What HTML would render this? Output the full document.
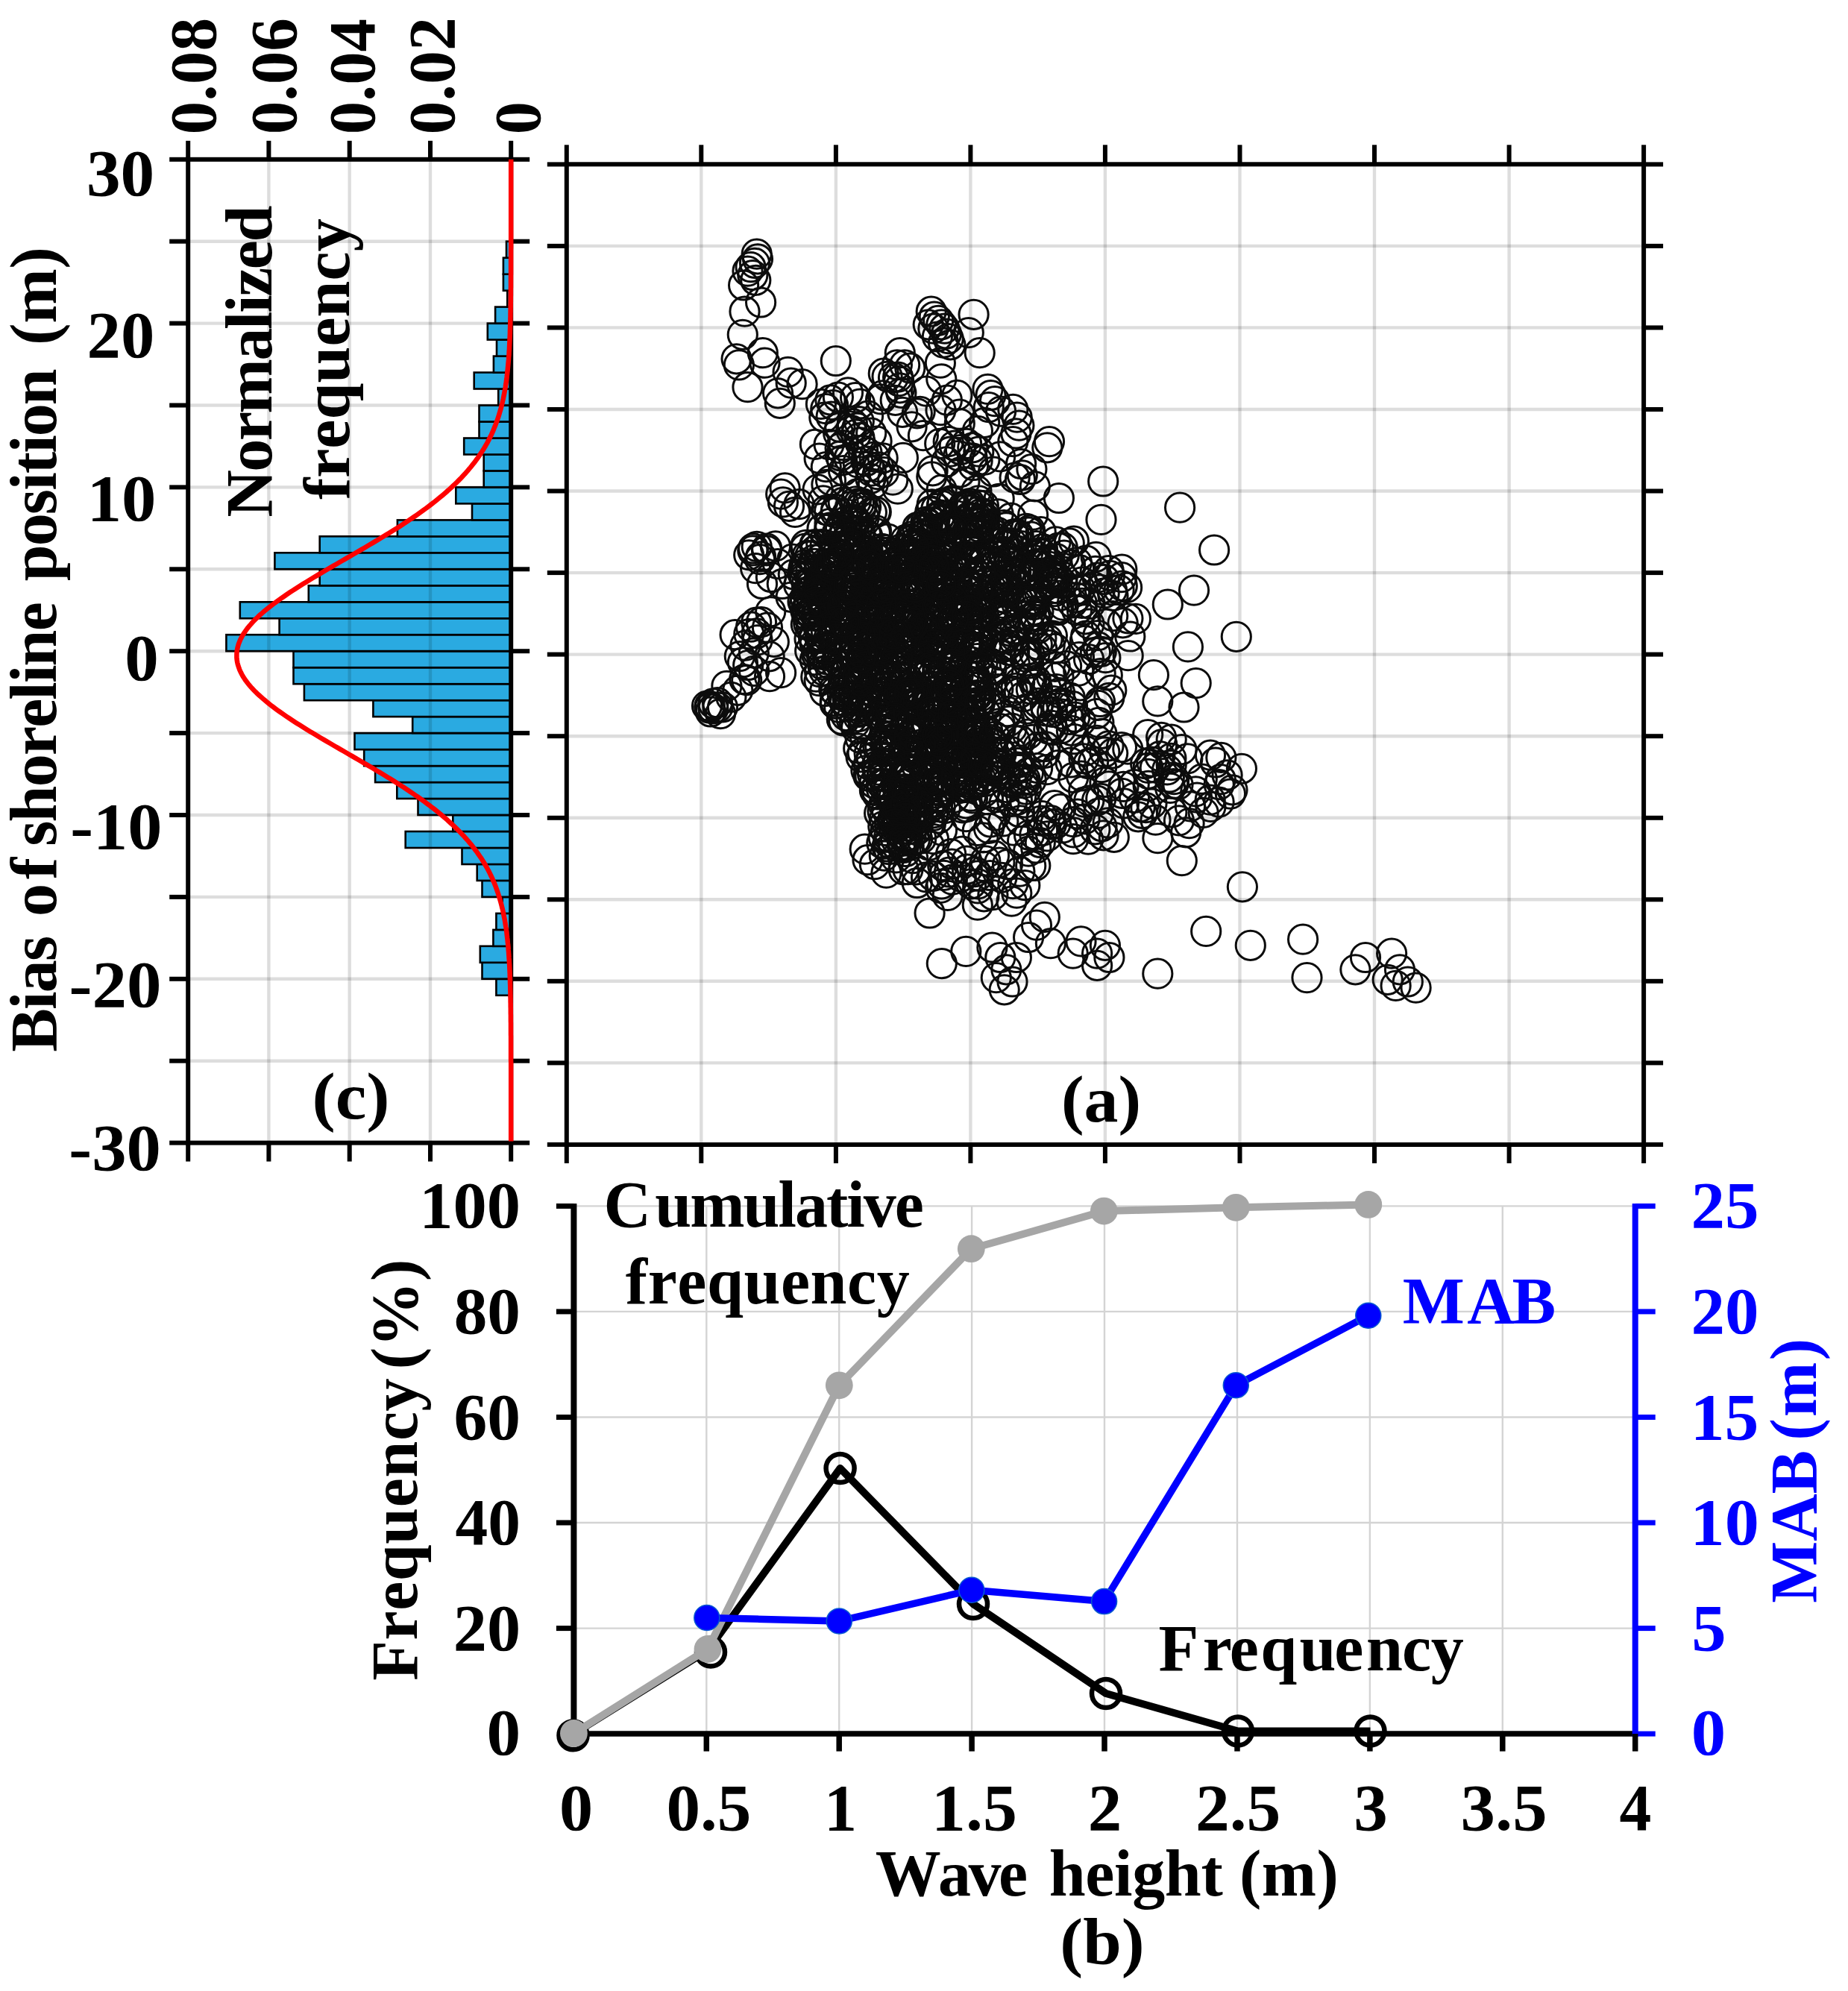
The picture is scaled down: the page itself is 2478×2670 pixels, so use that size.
<!DOCTYPE html>
<html><head><meta charset="utf-8"><title>Figure</title>
<style>html,body{margin:0;padding:0;background:#fff}svg{display:block;filter:blur(0.55px)}</style></head>
<body>
<svg width="2478" height="2670" viewBox="0 0 2478 2670">
<rect width="2478" height="2670" fill="#fff"/>
<g id="panel-c">
<line x1="577.0" y1="213.8" x2="577.0" y2="1532.6" stroke="#000" stroke-width="4.4" stroke-opacity="0.135"/>
<line x1="468.7" y1="213.8" x2="468.7" y2="1532.6" stroke="#000" stroke-width="4.4" stroke-opacity="0.135"/>
<line x1="360.4" y1="213.8" x2="360.4" y2="1532.6" stroke="#000" stroke-width="4.4" stroke-opacity="0.135"/>
<line x1="252.2" y1="1422.7" x2="685.2" y2="1422.7" stroke="#000" stroke-width="4.4" stroke-opacity="0.135"/>
<line x1="252.2" y1="1312.8" x2="685.2" y2="1312.8" stroke="#000" stroke-width="4.4" stroke-opacity="0.135"/>
<line x1="252.2" y1="1202.9" x2="685.2" y2="1202.9" stroke="#000" stroke-width="4.4" stroke-opacity="0.135"/>
<line x1="252.2" y1="1093.0" x2="685.2" y2="1093.0" stroke="#000" stroke-width="4.4" stroke-opacity="0.135"/>
<line x1="252.2" y1="983.1" x2="685.2" y2="983.1" stroke="#000" stroke-width="4.4" stroke-opacity="0.135"/>
<line x1="252.2" y1="873.2" x2="685.2" y2="873.2" stroke="#000" stroke-width="4.4" stroke-opacity="0.135"/>
<line x1="252.2" y1="763.3" x2="685.2" y2="763.3" stroke="#000" stroke-width="4.4" stroke-opacity="0.135"/>
<line x1="252.2" y1="653.4" x2="685.2" y2="653.4" stroke="#000" stroke-width="4.4" stroke-opacity="0.135"/>
<line x1="252.2" y1="543.5" x2="685.2" y2="543.5" stroke="#000" stroke-width="4.4" stroke-opacity="0.135"/>
<line x1="252.2" y1="433.6" x2="685.2" y2="433.6" stroke="#000" stroke-width="4.4" stroke-opacity="0.135"/>
<line x1="252.2" y1="323.7" x2="685.2" y2="323.7" stroke="#000" stroke-width="4.4" stroke-opacity="0.135"/>
<clipPath id="barclip">
<rect x="665.4" y="1312.8" width="19.8" height="22.0"/>
<rect x="646.5" y="1290.8" width="38.7" height="22.0"/>
<rect x="643.8" y="1268.8" width="41.4" height="22.0"/>
<rect x="661.4" y="1246.9" width="23.8" height="22.0"/>
<rect x="665.4" y="1224.9" width="19.8" height="22.0"/>
<rect x="673.6" y="1202.9" width="11.6" height="22.0"/>
<rect x="646.5" y="1180.9" width="38.7" height="22.0"/>
<rect x="639.7" y="1158.9" width="45.5" height="22.0"/>
<rect x="619.5" y="1137.0" width="65.7" height="22.0"/>
<rect x="543.7" y="1115.0" width="141.5" height="22.0"/>
<rect x="607.3" y="1093.0" width="77.9" height="22.0"/>
<rect x="560.5" y="1071.0" width="124.7" height="22.0"/>
<rect x="532.3" y="1049.0" width="152.9" height="22.0"/>
<rect x="503.1" y="1027.1" width="182.1" height="22.0"/>
<rect x="488.2" y="1005.1" width="197.0" height="22.0"/>
<rect x="475.5" y="983.1" width="209.7" height="22.0"/>
<rect x="553.2" y="961.1" width="132.0" height="22.0"/>
<rect x="500.4" y="939.1" width="184.8" height="22.0"/>
<rect x="407.9" y="917.2" width="277.3" height="22.0"/>
<rect x="393.5" y="895.2" width="291.7" height="22.0"/>
<rect x="393.5" y="873.2" width="291.7" height="22.0"/>
<rect x="303.4" y="851.2" width="381.8" height="22.0"/>
<rect x="374.6" y="829.2" width="310.6" height="22.0"/>
<rect x="321.8" y="807.3" width="363.4" height="22.0"/>
<rect x="413.8" y="785.3" width="271.4" height="22.0"/>
<rect x="428.7" y="763.3" width="256.5" height="22.0"/>
<rect x="368.4" y="741.3" width="316.8" height="22.0"/>
<rect x="428.7" y="719.3" width="256.5" height="22.0"/>
<rect x="532.9" y="697.4" width="152.3" height="22.0"/>
<rect x="633.0" y="675.4" width="52.2" height="22.0"/>
<rect x="611.3" y="653.4" width="73.9" height="22.0"/>
<rect x="648.7" y="631.4" width="36.5" height="22.0"/>
<rect x="648.7" y="609.4" width="36.5" height="22.0"/>
<rect x="622.2" y="587.5" width="63.0" height="22.0"/>
<rect x="642.5" y="565.5" width="42.7" height="22.0"/>
<rect x="642.5" y="543.5" width="42.7" height="22.0"/>
<rect x="668.2" y="521.5" width="17.0" height="22.0"/>
<rect x="635.7" y="499.5" width="49.5" height="22.0"/>
<rect x="661.9" y="477.6" width="23.3" height="22.0"/>
<rect x="666.0" y="455.6" width="19.2" height="22.0"/>
<rect x="653.8" y="433.6" width="31.4" height="22.0"/>
<rect x="664.1" y="411.6" width="21.1" height="22.0"/>
<rect x="680.3" y="389.6" width="4.9" height="22.0"/>
<rect x="674.9" y="367.7" width="10.3" height="22.0"/>
<rect x="674.9" y="345.7" width="10.3" height="22.0"/>
<rect x="679.0" y="323.7" width="6.2" height="22.0"/>
</clipPath>
<rect x="665.4" y="1312.8" width="19.8" height="22.0" fill="#2aaae1" stroke="#000" stroke-width="2.6"/>
<rect x="646.5" y="1290.8" width="38.7" height="22.0" fill="#2aaae1" stroke="#000" stroke-width="2.6"/>
<rect x="643.8" y="1268.8" width="41.4" height="22.0" fill="#2aaae1" stroke="#000" stroke-width="2.6"/>
<rect x="661.4" y="1246.9" width="23.8" height="22.0" fill="#2aaae1" stroke="#000" stroke-width="2.6"/>
<rect x="665.4" y="1224.9" width="19.8" height="22.0" fill="#2aaae1" stroke="#000" stroke-width="2.6"/>
<rect x="673.6" y="1202.9" width="11.6" height="22.0" fill="#2aaae1" stroke="#000" stroke-width="2.6"/>
<rect x="646.5" y="1180.9" width="38.7" height="22.0" fill="#2aaae1" stroke="#000" stroke-width="2.6"/>
<rect x="639.7" y="1158.9" width="45.5" height="22.0" fill="#2aaae1" stroke="#000" stroke-width="2.6"/>
<rect x="619.5" y="1137.0" width="65.7" height="22.0" fill="#2aaae1" stroke="#000" stroke-width="2.6"/>
<rect x="543.7" y="1115.0" width="141.5" height="22.0" fill="#2aaae1" stroke="#000" stroke-width="2.6"/>
<rect x="607.3" y="1093.0" width="77.9" height="22.0" fill="#2aaae1" stroke="#000" stroke-width="2.6"/>
<rect x="560.5" y="1071.0" width="124.7" height="22.0" fill="#2aaae1" stroke="#000" stroke-width="2.6"/>
<rect x="532.3" y="1049.0" width="152.9" height="22.0" fill="#2aaae1" stroke="#000" stroke-width="2.6"/>
<rect x="503.1" y="1027.1" width="182.1" height="22.0" fill="#2aaae1" stroke="#000" stroke-width="2.6"/>
<rect x="488.2" y="1005.1" width="197.0" height="22.0" fill="#2aaae1" stroke="#000" stroke-width="2.6"/>
<rect x="475.5" y="983.1" width="209.7" height="22.0" fill="#2aaae1" stroke="#000" stroke-width="2.6"/>
<rect x="553.2" y="961.1" width="132.0" height="22.0" fill="#2aaae1" stroke="#000" stroke-width="2.6"/>
<rect x="500.4" y="939.1" width="184.8" height="22.0" fill="#2aaae1" stroke="#000" stroke-width="2.6"/>
<rect x="407.9" y="917.2" width="277.3" height="22.0" fill="#2aaae1" stroke="#000" stroke-width="2.6"/>
<rect x="393.5" y="895.2" width="291.7" height="22.0" fill="#2aaae1" stroke="#000" stroke-width="2.6"/>
<rect x="393.5" y="873.2" width="291.7" height="22.0" fill="#2aaae1" stroke="#000" stroke-width="2.6"/>
<rect x="303.4" y="851.2" width="381.8" height="22.0" fill="#2aaae1" stroke="#000" stroke-width="2.6"/>
<rect x="374.6" y="829.2" width="310.6" height="22.0" fill="#2aaae1" stroke="#000" stroke-width="2.6"/>
<rect x="321.8" y="807.3" width="363.4" height="22.0" fill="#2aaae1" stroke="#000" stroke-width="2.6"/>
<rect x="413.8" y="785.3" width="271.4" height="22.0" fill="#2aaae1" stroke="#000" stroke-width="2.6"/>
<rect x="428.7" y="763.3" width="256.5" height="22.0" fill="#2aaae1" stroke="#000" stroke-width="2.6"/>
<rect x="368.4" y="741.3" width="316.8" height="22.0" fill="#2aaae1" stroke="#000" stroke-width="2.6"/>
<rect x="428.7" y="719.3" width="256.5" height="22.0" fill="#2aaae1" stroke="#000" stroke-width="2.6"/>
<rect x="532.9" y="697.4" width="152.3" height="22.0" fill="#2aaae1" stroke="#000" stroke-width="2.6"/>
<rect x="633.0" y="675.4" width="52.2" height="22.0" fill="#2aaae1" stroke="#000" stroke-width="2.6"/>
<rect x="611.3" y="653.4" width="73.9" height="22.0" fill="#2aaae1" stroke="#000" stroke-width="2.6"/>
<rect x="648.7" y="631.4" width="36.5" height="22.0" fill="#2aaae1" stroke="#000" stroke-width="2.6"/>
<rect x="648.7" y="609.4" width="36.5" height="22.0" fill="#2aaae1" stroke="#000" stroke-width="2.6"/>
<rect x="622.2" y="587.5" width="63.0" height="22.0" fill="#2aaae1" stroke="#000" stroke-width="2.6"/>
<rect x="642.5" y="565.5" width="42.7" height="22.0" fill="#2aaae1" stroke="#000" stroke-width="2.6"/>
<rect x="642.5" y="543.5" width="42.7" height="22.0" fill="#2aaae1" stroke="#000" stroke-width="2.6"/>
<rect x="668.2" y="521.5" width="17.0" height="22.0" fill="#2aaae1" stroke="#000" stroke-width="2.6"/>
<rect x="635.7" y="499.5" width="49.5" height="22.0" fill="#2aaae1" stroke="#000" stroke-width="2.6"/>
<rect x="661.9" y="477.6" width="23.3" height="22.0" fill="#2aaae1" stroke="#000" stroke-width="2.6"/>
<rect x="666.0" y="455.6" width="19.2" height="22.0" fill="#2aaae1" stroke="#000" stroke-width="2.6"/>
<rect x="653.8" y="433.6" width="31.4" height="22.0" fill="#2aaae1" stroke="#000" stroke-width="2.6"/>
<rect x="664.1" y="411.6" width="21.1" height="22.0" fill="#2aaae1" stroke="#000" stroke-width="2.6"/>
<rect x="680.3" y="389.6" width="4.9" height="22.0" fill="#2aaae1" stroke="#000" stroke-width="2.6"/>
<rect x="674.9" y="367.7" width="10.3" height="22.0" fill="#2aaae1" stroke="#000" stroke-width="2.6"/>
<rect x="674.9" y="345.7" width="10.3" height="22.0" fill="#2aaae1" stroke="#000" stroke-width="2.6"/>
<rect x="679.0" y="323.7" width="6.2" height="22.0" fill="#2aaae1" stroke="#000" stroke-width="2.6"/>
<g clip-path="url(#barclip)">
<line x1="577.0" y1="213.8" x2="577.0" y2="1532.6" stroke="#000" stroke-width="4.4" stroke-opacity="0.13"/>
<line x1="468.7" y1="213.8" x2="468.7" y2="1532.6" stroke="#000" stroke-width="4.4" stroke-opacity="0.13"/>
<line x1="360.4" y1="213.8" x2="360.4" y2="1532.6" stroke="#000" stroke-width="4.4" stroke-opacity="0.13"/>
<line x1="252.2" y1="1422.7" x2="685.2" y2="1422.7" stroke="#000" stroke-width="4.4" stroke-opacity="0.13"/>
<line x1="252.2" y1="1312.8" x2="685.2" y2="1312.8" stroke="#000" stroke-width="4.4" stroke-opacity="0.13"/>
<line x1="252.2" y1="1202.9" x2="685.2" y2="1202.9" stroke="#000" stroke-width="4.4" stroke-opacity="0.13"/>
<line x1="252.2" y1="1093.0" x2="685.2" y2="1093.0" stroke="#000" stroke-width="4.4" stroke-opacity="0.13"/>
<line x1="252.2" y1="983.1" x2="685.2" y2="983.1" stroke="#000" stroke-width="4.4" stroke-opacity="0.13"/>
<line x1="252.2" y1="873.2" x2="685.2" y2="873.2" stroke="#000" stroke-width="4.4" stroke-opacity="0.13"/>
<line x1="252.2" y1="763.3" x2="685.2" y2="763.3" stroke="#000" stroke-width="4.4" stroke-opacity="0.13"/>
<line x1="252.2" y1="653.4" x2="685.2" y2="653.4" stroke="#000" stroke-width="4.4" stroke-opacity="0.13"/>
<line x1="252.2" y1="543.5" x2="685.2" y2="543.5" stroke="#000" stroke-width="4.4" stroke-opacity="0.13"/>
<line x1="252.2" y1="433.6" x2="685.2" y2="433.6" stroke="#000" stroke-width="4.4" stroke-opacity="0.13"/>
<line x1="252.2" y1="323.7" x2="685.2" y2="323.7" stroke="#000" stroke-width="4.4" stroke-opacity="0.13"/>
</g>
<rect x="252.2" y="213.8" width="433.00000000000006" height="1318.8" fill="none" stroke="#000" stroke-width="6"/>
<line x1="227.2" y1="1532.6" x2="252.2" y2="1532.6" stroke="#000" stroke-width="6" />
<line x1="685.2" y1="1532.6" x2="710.2" y2="1532.6" stroke="#000" stroke-width="6" />
<line x1="227.2" y1="1422.7" x2="252.2" y2="1422.7" stroke="#000" stroke-width="6" />
<line x1="685.2" y1="1422.7" x2="710.2" y2="1422.7" stroke="#000" stroke-width="6" />
<line x1="227.2" y1="1312.8" x2="252.2" y2="1312.8" stroke="#000" stroke-width="6" />
<line x1="685.2" y1="1312.8" x2="710.2" y2="1312.8" stroke="#000" stroke-width="6" />
<line x1="227.2" y1="1202.9" x2="252.2" y2="1202.9" stroke="#000" stroke-width="6" />
<line x1="685.2" y1="1202.9" x2="710.2" y2="1202.9" stroke="#000" stroke-width="6" />
<line x1="227.2" y1="1093.0" x2="252.2" y2="1093.0" stroke="#000" stroke-width="6" />
<line x1="685.2" y1="1093.0" x2="710.2" y2="1093.0" stroke="#000" stroke-width="6" />
<line x1="227.2" y1="983.1" x2="252.2" y2="983.1" stroke="#000" stroke-width="6" />
<line x1="685.2" y1="983.1" x2="710.2" y2="983.1" stroke="#000" stroke-width="6" />
<line x1="227.2" y1="873.2" x2="252.2" y2="873.2" stroke="#000" stroke-width="6" />
<line x1="685.2" y1="873.2" x2="710.2" y2="873.2" stroke="#000" stroke-width="6" />
<line x1="227.2" y1="763.3" x2="252.2" y2="763.3" stroke="#000" stroke-width="6" />
<line x1="685.2" y1="763.3" x2="710.2" y2="763.3" stroke="#000" stroke-width="6" />
<line x1="227.2" y1="653.4" x2="252.2" y2="653.4" stroke="#000" stroke-width="6" />
<line x1="685.2" y1="653.4" x2="710.2" y2="653.4" stroke="#000" stroke-width="6" />
<line x1="227.2" y1="543.5" x2="252.2" y2="543.5" stroke="#000" stroke-width="6" />
<line x1="685.2" y1="543.5" x2="710.2" y2="543.5" stroke="#000" stroke-width="6" />
<line x1="227.2" y1="433.6" x2="252.2" y2="433.6" stroke="#000" stroke-width="6" />
<line x1="685.2" y1="433.6" x2="710.2" y2="433.6" stroke="#000" stroke-width="6" />
<line x1="227.2" y1="323.7" x2="252.2" y2="323.7" stroke="#000" stroke-width="6" />
<line x1="685.2" y1="323.7" x2="710.2" y2="323.7" stroke="#000" stroke-width="6" />
<line x1="227.2" y1="213.8" x2="252.2" y2="213.8" stroke="#000" stroke-width="6" />
<line x1="685.2" y1="213.8" x2="710.2" y2="213.8" stroke="#000" stroke-width="6" />
<line x1="685.2" y1="188.8" x2="685.2" y2="213.8" stroke="#000" stroke-width="6" />
<line x1="685.2" y1="1532.6" x2="685.2" y2="1557.6" stroke="#000" stroke-width="6" />
<line x1="577.0" y1="188.8" x2="577.0" y2="213.8" stroke="#000" stroke-width="6" />
<line x1="577.0" y1="1532.6" x2="577.0" y2="1557.6" stroke="#000" stroke-width="6" />
<line x1="468.7" y1="188.8" x2="468.7" y2="213.8" stroke="#000" stroke-width="6" />
<line x1="468.7" y1="1532.6" x2="468.7" y2="1557.6" stroke="#000" stroke-width="6" />
<line x1="360.4" y1="188.8" x2="360.4" y2="213.8" stroke="#000" stroke-width="6" />
<line x1="360.4" y1="1532.6" x2="360.4" y2="1557.6" stroke="#000" stroke-width="6" />
<line x1="252.2" y1="188.8" x2="252.2" y2="213.8" stroke="#000" stroke-width="6" />
<line x1="252.2" y1="1532.6" x2="252.2" y2="1557.6" stroke="#000" stroke-width="6" />
<polyline fill="none" stroke="#ff0000" stroke-width="6.5" stroke-linejoin="round" points="685.2,213.8 685.2,216.0 685.2,218.2 685.2,220.4 685.2,222.6 685.2,224.8 685.2,227.0 685.2,229.2 685.2,231.4 685.2,233.6 685.2,235.8 685.2,238.0 685.2,240.2 685.2,242.4 685.2,244.6 685.2,246.8 685.2,249.0 685.2,251.2 685.2,253.4 685.2,255.6 685.2,257.8 685.2,260.0 685.2,262.2 685.2,264.4 685.2,266.6 685.2,268.8 685.2,270.9 685.2,273.1 685.2,275.3 685.2,277.5 685.2,279.7 685.2,281.9 685.2,284.1 685.2,286.3 685.2,288.5 685.2,290.7 685.2,292.9 685.2,295.1 685.2,297.3 685.2,299.5 685.2,301.7 685.2,303.9 685.2,306.1 685.2,308.3 685.2,310.5 685.2,312.7 685.2,314.9 685.2,317.1 685.2,319.3 685.2,321.5 685.2,323.7 685.2,325.9 685.2,328.1 685.2,330.3 685.2,332.5 685.1,334.7 685.1,336.9 685.1,339.1 685.1,341.3 685.1,343.5 685.1,345.7 685.1,347.9 685.1,350.1 685.1,352.3 685.1,354.5 685.1,356.7 685.1,358.9 685.1,361.1 685.1,363.3 685.1,365.5 685.1,367.7 685.0,369.9 685.0,372.1 685.0,374.3 685.0,376.5 685.0,378.7 685.0,380.8 685.0,383.0 685.0,385.2 684.9,387.4 684.9,389.6 684.9,391.8 684.9,394.0 684.9,396.2 684.8,398.4 684.8,400.6 684.8,402.8 684.8,405.0 684.7,407.2 684.7,409.4 684.7,411.6 684.6,413.8 684.6,416.0 684.6,418.2 684.5,420.4 684.5,422.6 684.5,424.8 684.4,427.0 684.4,429.2 684.3,431.4 684.3,433.6 684.2,435.8 684.1,438.0 684.1,440.2 684.0,442.4 683.9,444.6 683.9,446.8 683.8,449.0 683.7,451.2 683.6,453.4 683.5,455.6 683.4,457.8 683.3,460.0 683.2,462.2 683.1,464.4 683.0,466.6 682.9,468.8 682.7,471.0 682.6,473.2 682.5,475.4 682.3,477.6 682.1,479.8 682.0,482.0 681.8,484.2 681.6,486.4 681.4,488.6 681.2,490.7 681.0,492.9 680.8,495.1 680.6,497.3 680.3,499.5 680.1,501.7 679.8,503.9 679.6,506.1 679.3,508.3 679.0,510.5 678.7,512.7 678.4,514.9 678.0,517.1 677.7,519.3 677.3,521.5 676.9,523.7 676.5,525.9 676.1,528.1 675.7,530.3 675.2,532.5 674.8,534.7 674.3,536.9 673.8,539.1 673.3,541.3 672.7,543.5 672.2,545.7 671.6,547.9 671.0,550.1 670.3,552.3 669.7,554.5 669.0,556.7 668.3,558.9 667.6,561.1 666.8,563.3 666.0,565.5 665.2,567.7 664.4,569.9 663.5,572.1 662.6,574.3 661.7,576.5 660.8,578.7 659.8,580.9 658.8,583.1 657.7,585.3 656.6,587.5 655.5,589.7 654.4,591.9 653.2,594.1 651.9,596.3 650.7,598.5 649.4,600.6 648.1,602.8 646.7,605.0 645.3,607.2 643.8,609.4 642.3,611.6 640.8,613.8 639.2,616.0 637.6,618.2 635.9,620.4 634.2,622.6 632.5,624.8 630.7,627.0 628.8,629.2 627.0,631.4 625.0,633.6 623.1,635.8 621.0,638.0 619.0,640.2 616.9,642.4 614.7,644.6 612.5,646.8 610.2,649.0 607.9,651.2 605.6,653.4 603.2,655.6 600.7,657.8 598.3,660.0 595.7,662.2 593.1,664.4 590.5,666.6 587.8,668.8 585.1,671.0 582.3,673.2 579.5,675.4 576.6,677.6 573.7,679.8 570.8,682.0 567.8,684.2 564.7,686.4 561.6,688.6 558.5,690.8 555.3,693.0 552.1,695.2 548.8,697.4 545.6,699.6 542.2,701.8 538.9,704.0 535.5,706.2 532.0,708.4 528.6,710.5 525.0,712.7 521.5,714.9 518.0,717.1 514.4,719.3 510.7,721.5 507.1,723.7 503.4,725.9 499.7,728.1 496.0,730.3 492.3,732.5 488.6,734.7 484.8,736.9 481.0,739.1 477.3,741.3 473.5,743.5 469.7,745.7 465.9,747.9 462.1,750.1 458.3,752.3 454.5,754.5 450.7,756.7 446.9,758.9 443.1,761.1 439.4,763.3 435.6,765.5 431.9,767.7 428.2,769.9 424.5,772.1 420.8,774.3 417.1,776.5 413.5,778.7 409.9,780.9 406.4,783.1 402.9,785.3 399.4,787.5 395.9,789.7 392.6,791.9 389.2,794.1 385.9,796.3 382.7,798.5 379.5,800.7 376.3,802.9 373.2,805.1 370.2,807.3 367.3,809.5 364.4,811.7 361.5,813.9 358.8,816.1 356.1,818.3 353.5,820.4 351.0,822.6 348.5,824.8 346.1,827.0 343.9,829.2 341.6,831.4 339.5,833.6 337.5,835.8 335.6,838.0 333.7,840.2 331.9,842.4 330.3,844.6 328.7,846.8 327.2,849.0 325.9,851.2 324.6,853.4 323.4,855.6 322.3,857.8 321.4,860.0 320.5,862.2 319.7,864.4 319.1,866.6 318.5,868.8 318.1,871.0 317.7,873.2 317.5,875.4 317.4,877.6 317.4,879.8 317.4,882.0 317.6,884.2 317.9,886.4 318.3,888.6 318.8,890.8 319.5,893.0 320.2,895.2 321.0,897.4 321.9,899.6 323.0,901.8 324.1,904.0 325.3,906.2 326.7,908.4 328.1,910.6 329.6,912.8 331.3,915.0 333.0,917.2 334.8,919.4 336.7,921.6 338.7,923.8 340.8,926.0 343.0,928.2 345.2,930.3 347.6,932.5 350.0,934.7 352.5,936.9 355.1,939.1 357.7,941.3 360.4,943.5 363.2,945.7 366.1,947.9 369.0,950.1 372.0,952.3 375.1,954.5 378.2,956.7 381.4,958.9 384.6,961.1 387.9,963.3 391.2,965.5 394.6,967.7 398.0,969.9 401.5,972.1 405.0,974.3 408.5,976.5 412.1,978.7 415.7,980.9 419.3,983.1 423.0,985.3 426.7,987.5 430.4,989.7 434.1,991.9 437.9,994.1 441.6,996.3 445.4,998.5 449.2,1000.7 453.0,1002.9 456.8,1005.1 460.6,1007.3 464.4,1009.5 468.2,1011.7 472.0,1013.9 475.8,1016.1 479.5,1018.3 483.3,1020.5 487.1,1022.7 490.8,1024.9 494.6,1027.1 498.3,1029.3 502.0,1031.5 505.6,1033.7 509.3,1035.9 512.9,1038.1 516.5,1040.2 520.1,1042.4 523.6,1044.6 527.2,1046.8 530.6,1049.0 534.1,1051.2 537.5,1053.4 540.9,1055.6 544.2,1057.8 547.5,1060.0 550.8,1062.2 554.0,1064.4 557.2,1066.6 560.4,1068.8 563.5,1071.0 566.5,1073.2 569.6,1075.4 572.5,1077.6 575.5,1079.8 578.3,1082.0 581.2,1084.2 584.0,1086.4 586.7,1088.6 589.4,1090.8 592.1,1093.0 594.7,1095.2 597.2,1097.4 599.8,1099.6 602.2,1101.8 604.6,1104.0 607.0,1106.2 609.3,1108.4 611.6,1110.6 613.8,1112.8 616.0,1115.0 618.1,1117.2 620.2,1119.4 622.3,1121.6 624.2,1123.8 626.2,1126.0 628.1,1128.2 629.9,1130.4 631.8,1132.6 633.5,1134.8 635.2,1137.0 636.9,1139.2 638.6,1141.4 640.2,1143.6 641.7,1145.8 643.2,1148.0 644.7,1150.1 646.1,1152.3 647.5,1154.5 648.9,1156.7 650.2,1158.9 651.4,1161.1 652.7,1163.3 653.9,1165.5 655.1,1167.7 656.2,1169.9 657.3,1172.1 658.3,1174.3 659.4,1176.5 660.4,1178.7 661.3,1180.9 662.3,1183.1 663.2,1185.3 664.1,1187.5 664.9,1189.7 665.7,1191.9 666.5,1194.1 667.3,1196.3 668.0,1198.5 668.7,1200.7 669.4,1202.9 670.1,1205.1 670.7,1207.3 671.3,1209.5 671.9,1211.7 672.5,1213.9 673.0,1216.1 673.6,1218.3 674.1,1220.5 674.6,1222.7 675.1,1224.9 675.5,1227.1 675.9,1229.3 676.4,1231.5 676.8,1233.7 677.2,1235.9 677.5,1238.1 677.9,1240.3 678.2,1242.5 678.6,1244.7 678.9,1246.9 679.2,1249.1 679.5,1251.3 679.7,1253.5 680.0,1255.7 680.2,1257.9 680.5,1260.0 680.7,1262.2 680.9,1264.4 681.2,1266.6 681.4,1268.8 681.6,1271.0 681.7,1273.2 681.9,1275.4 682.1,1277.6 682.2,1279.8 682.4,1282.0 682.5,1284.2 682.7,1286.4 682.8,1288.6 682.9,1290.8 683.1,1293.0 683.2,1295.2 683.3,1297.4 683.4,1299.6 683.5,1301.8 683.6,1304.0 683.7,1306.2 683.7,1308.4 683.8,1310.6 683.9,1312.8 684.0,1315.0 684.0,1317.2 684.1,1319.4 684.2,1321.6 684.2,1323.8 684.3,1326.0 684.3,1328.2 684.4,1330.4 684.4,1332.6 684.5,1334.8 684.5,1337.0 684.6,1339.2 684.6,1341.4 684.6,1343.6 684.7,1345.8 684.7,1348.0 684.7,1350.2 684.8,1352.4 684.8,1354.6 684.8,1356.8 684.8,1359.0 684.9,1361.2 684.9,1363.4 684.9,1365.6 684.9,1367.8 684.9,1369.9 685.0,1372.1 685.0,1374.3 685.0,1376.5 685.0,1378.7 685.0,1380.9 685.0,1383.1 685.0,1385.3 685.0,1387.5 685.1,1389.7 685.1,1391.9 685.1,1394.1 685.1,1396.3 685.1,1398.5 685.1,1400.7 685.1,1402.9 685.1,1405.1 685.1,1407.3 685.1,1409.5 685.1,1411.7 685.1,1413.9 685.1,1416.1 685.1,1418.3 685.1,1420.5 685.1,1422.7 685.2,1424.9 685.2,1427.1 685.2,1429.3 685.2,1431.5 685.2,1433.7 685.2,1435.9 685.2,1438.1 685.2,1440.3 685.2,1442.5 685.2,1444.7 685.2,1446.9 685.2,1449.1 685.2,1451.3 685.2,1453.5 685.2,1455.7 685.2,1457.9 685.2,1460.1 685.2,1462.3 685.2,1464.5 685.2,1466.7 685.2,1468.9 685.2,1471.1 685.2,1473.3 685.2,1475.5 685.2,1477.7 685.2,1479.8 685.2,1482.0 685.2,1484.2 685.2,1486.4 685.2,1488.6 685.2,1490.8 685.2,1493.0 685.2,1495.2 685.2,1497.4 685.2,1499.6 685.2,1501.8 685.2,1504.0 685.2,1506.2 685.2,1508.4 685.2,1510.6 685.2,1512.8 685.2,1515.0 685.2,1517.2 685.2,1519.4 685.2,1521.6 685.2,1523.8 685.2,1526.0 685.2,1528.2 685.2,1530.4"/>
</g>
<g id="panel-a">
<line x1="940.3" y1="220.3" x2="940.3" y2="1535.0" stroke="#000" stroke-width="4.4" stroke-opacity="0.135"/>
<line x1="1120.9" y1="220.3" x2="1120.9" y2="1535.0" stroke="#000" stroke-width="4.4" stroke-opacity="0.135"/>
<line x1="1301.4" y1="220.3" x2="1301.4" y2="1535.0" stroke="#000" stroke-width="4.4" stroke-opacity="0.135"/>
<line x1="1481.9" y1="220.3" x2="1481.9" y2="1535.0" stroke="#000" stroke-width="4.4" stroke-opacity="0.135"/>
<line x1="1662.5" y1="220.3" x2="1662.5" y2="1535.0" stroke="#000" stroke-width="4.4" stroke-opacity="0.135"/>
<line x1="1843.0" y1="220.3" x2="1843.0" y2="1535.0" stroke="#000" stroke-width="4.4" stroke-opacity="0.135"/>
<line x1="2023.6" y1="220.3" x2="2023.6" y2="1535.0" stroke="#000" stroke-width="4.4" stroke-opacity="0.135"/>
<line x1="759.8" y1="1425.4" x2="2204.1" y2="1425.4" stroke="#000" stroke-width="4.4" stroke-opacity="0.135"/>
<line x1="759.8" y1="1315.8" x2="2204.1" y2="1315.8" stroke="#000" stroke-width="4.4" stroke-opacity="0.135"/>
<line x1="759.8" y1="1206.3" x2="2204.1" y2="1206.3" stroke="#000" stroke-width="4.4" stroke-opacity="0.135"/>
<line x1="759.8" y1="1096.8" x2="2204.1" y2="1096.8" stroke="#000" stroke-width="4.4" stroke-opacity="0.135"/>
<line x1="759.8" y1="987.2" x2="2204.1" y2="987.2" stroke="#000" stroke-width="4.4" stroke-opacity="0.135"/>
<line x1="759.8" y1="877.6" x2="2204.1" y2="877.6" stroke="#000" stroke-width="4.4" stroke-opacity="0.135"/>
<line x1="759.8" y1="768.1" x2="2204.1" y2="768.1" stroke="#000" stroke-width="4.4" stroke-opacity="0.135"/>
<line x1="759.8" y1="658.5" x2="2204.1" y2="658.5" stroke="#000" stroke-width="4.4" stroke-opacity="0.135"/>
<line x1="759.8" y1="549.0" x2="2204.1" y2="549.0" stroke="#000" stroke-width="4.4" stroke-opacity="0.135"/>
<line x1="759.8" y1="439.4" x2="2204.1" y2="439.4" stroke="#000" stroke-width="4.4" stroke-opacity="0.135"/>
<line x1="759.8" y1="329.9" x2="2204.1" y2="329.9" stroke="#000" stroke-width="4.4" stroke-opacity="0.135"/>
<g fill="none" stroke="#0c0c0c" stroke-width="3.0">
<circle cx="1010.1" cy="735.4" r="19.6"/><circle cx="1019.0" cy="750.2" r="19.6"/><circle cx="1028.0" cy="738.3" r="19.6"/><circle cx="1013.1" cy="762.1" r="19.6"/><circle cx="1033.9" cy="774.0" r="19.6"/><circle cx="1022.0" cy="783.0" r="19.6"/>
<circle cx="1042.9" cy="756.2" r="19.6"/><circle cx="1004.2" cy="744.3" r="19.6"/><circle cx="1039.9" cy="732.4" r="19.6"/><circle cx="1048.8" cy="783.0" r="19.6"/><circle cx="956.4" cy="950.4" r="19.6"/><circle cx="962.0" cy="942.1" r="19.6"/>
<circle cx="952.9" cy="954.5" r="19.6"/><circle cx="951.8" cy="947.2" r="19.6"/><circle cx="966.1" cy="957.1" r="19.6"/><circle cx="951.4" cy="947.3" r="19.6"/><circle cx="948.0" cy="946.6" r="19.6"/><circle cx="962.4" cy="948.5" r="19.6"/>
<circle cx="969.0" cy="948.3" r="19.6"/><circle cx="951.5" cy="949.5" r="19.6"/><circle cx="956.4" cy="943.3" r="19.6"/><circle cx="989.3" cy="925.8" r="19.6"/><circle cx="980.4" cy="934.8" r="19.6"/><circle cx="974.4" cy="919.9" r="19.6"/>
<circle cx="998.2" cy="911.0" r="19.6"/><circle cx="1014.7" cy="340.6" r="19.6"/><circle cx="1016.0" cy="347.3" r="19.6"/><circle cx="1012.0" cy="352.8" r="19.6"/><circle cx="1006.6" cy="358.2" r="19.6"/><circle cx="1002.5" cy="363.6" r="19.6"/>
<circle cx="1009.3" cy="369.0" r="19.6"/><circle cx="1013.3" cy="375.8" r="19.6"/><circle cx="997.1" cy="382.5" r="19.6"/><circle cx="1020.1" cy="405.5" r="19.6"/><circle cx="998.5" cy="417.7" r="19.6"/><circle cx="995.8" cy="448.8" r="19.6"/>
<circle cx="1022.8" cy="473.2" r="19.6"/><circle cx="1025.5" cy="486.7" r="19.6"/><circle cx="987.6" cy="481.3" r="19.6"/><circle cx="990.9" cy="489.4" r="19.6"/><circle cx="1002.5" cy="519.2" r="19.6"/><circle cx="1056.6" cy="498.9" r="19.6"/>
<circle cx="1060.7" cy="513.7" r="19.6"/><circle cx="1043.1" cy="527.3" r="19.6"/><circle cx="1045.8" cy="540.8" r="19.6"/><circle cx="1075.6" cy="515.1" r="19.6"/><circle cx="1120.8" cy="484.0" r="19.6"/><circle cx="1248.7" cy="417.7" r="19.6"/>
<circle cx="1252.8" cy="424.5" r="19.6"/><circle cx="1258.2" cy="429.9" r="19.6"/><circle cx="1262.3" cy="435.3" r="19.6"/><circle cx="1266.3" cy="440.7" r="19.6"/><circle cx="1269.0" cy="447.5" r="19.6"/><circle cx="1271.7" cy="454.2" r="19.6"/>
<circle cx="1265.0" cy="459.6" r="19.6"/><circle cx="1256.9" cy="451.5" r="19.6"/><circle cx="1251.4" cy="440.7" r="19.6"/><circle cx="1244.7" cy="435.3" r="19.6"/><circle cx="1274.4" cy="462.3" r="19.6"/><circle cx="1305.6" cy="421.8" r="19.6"/>
<circle cx="1298.8" cy="446.1" r="19.6"/><circle cx="1313.7" cy="473.2" r="19.6"/><circle cx="1260.9" cy="486.7" r="19.6"/><circle cx="1262.3" cy="508.3" r="19.6"/><circle cx="1242.0" cy="524.6" r="19.6"/><circle cx="1206.8" cy="473.2" r="19.6"/>
<circle cx="1204.1" cy="505.6" r="19.6"/><circle cx="1181.1" cy="535.4" r="19.6"/><circle cx="1229.8" cy="554.3" r="19.6"/><circle cx="1286.6" cy="555.7" r="19.6"/><circle cx="1237.9" cy="584.1" r="19.6"/><circle cx="1210.9" cy="613.9" r="19.6"/>
<circle cx="1324.5" cy="521.9" r="19.6"/><circle cx="1328.5" cy="530.0" r="19.6"/><circle cx="1334.0" cy="538.1" r="19.6"/><circle cx="1325.8" cy="546.2" r="19.6"/><circle cx="1342.1" cy="551.6" r="19.6"/><circle cx="1358.3" cy="548.9" r="19.6"/>
<circle cx="1363.7" cy="559.7" r="19.6"/><circle cx="1366.4" cy="570.6" r="19.6"/><circle cx="1362.4" cy="581.4" r="19.6"/><circle cx="1358.3" cy="592.2" r="19.6"/><circle cx="1369.1" cy="622.0" r="19.6"/><circle cx="1407.0" cy="592.2" r="19.6"/>
<circle cx="1404.3" cy="600.3" r="19.6"/><circle cx="1271.7" cy="592.2" r="19.6"/><circle cx="1279.8" cy="597.6" r="19.6"/><circle cx="1288.0" cy="603.0" r="19.6"/><circle cx="1296.1" cy="594.9" r="19.6"/><circle cx="1304.2" cy="600.3" r="19.6"/>
<circle cx="1312.3" cy="605.7" r="19.6"/><circle cx="1320.4" cy="616.6" r="19.6"/><circle cx="1285.3" cy="611.1" r="19.6"/><circle cx="1274.4" cy="605.7" r="19.6"/><circle cx="1269.0" cy="619.3" r="19.6"/><circle cx="1052.6" cy="654.4" r="19.6"/>
<circle cx="1047.2" cy="662.6" r="19.6"/><circle cx="1049.9" cy="673.4" r="19.6"/><circle cx="1058.0" cy="678.8" r="19.6"/><circle cx="1066.1" cy="686.9" r="19.6"/><circle cx="1071.5" cy="676.1" r="19.6"/><circle cx="1014.7" cy="732.9" r="19.6"/>
<circle cx="1009.3" cy="738.3" r="19.6"/><circle cx="1020.1" cy="746.4" r="19.6"/><circle cx="1028.2" cy="735.6" r="19.6"/><circle cx="1246.6" cy="1224.5" r="19.6"/><circle cx="1262.8" cy="1292.1" r="19.6"/><circle cx="1295.3" cy="1275.9" r="19.6"/>
<circle cx="1330.4" cy="1270.5" r="19.6"/><circle cx="1341.3" cy="1284.0" r="19.6"/><circle cx="1349.4" cy="1300.3" r="19.6"/><circle cx="1357.5" cy="1316.5" r="19.6"/><circle cx="1346.7" cy="1327.3" r="19.6"/><circle cx="1335.8" cy="1311.1" r="19.6"/>
<circle cx="1362.9" cy="1284.0" r="19.6"/><circle cx="1379.1" cy="1257.0" r="19.6"/><circle cx="1390.0" cy="1240.7" r="19.6"/><circle cx="1400.8" cy="1229.9" r="19.6"/><circle cx="1408.9" cy="1265.1" r="19.6"/><circle cx="1438.7" cy="1278.6" r="19.6"/>
<circle cx="1449.5" cy="1262.4" r="19.6"/><circle cx="1471.1" cy="1278.6" r="19.6"/><circle cx="1481.9" cy="1267.8" r="19.6"/><circle cx="1487.4" cy="1284.0" r="19.6"/><circle cx="1471.1" cy="1294.8" r="19.6"/><circle cx="1552.3" cy="1305.7" r="19.6"/>
<circle cx="1617.2" cy="1248.9" r="19.6"/><circle cx="1676.8" cy="1267.8" r="19.6"/><circle cx="1747.1" cy="1259.7" r="19.6"/><circle cx="1752.5" cy="1311.1" r="19.6"/><circle cx="1665.9" cy="1189.3" r="19.6"/><circle cx="1584.8" cy="1154.2" r="19.6"/>
<circle cx="1590.2" cy="1116.3" r="19.6"/><circle cx="1817.4" cy="1300.3" r="19.6"/><circle cx="1831.0" cy="1284.0" r="19.6"/><circle cx="1866.1" cy="1278.6" r="19.6"/><circle cx="1877.0" cy="1300.3" r="19.6"/><circle cx="1887.8" cy="1316.5" r="19.6"/>
<circle cx="1871.6" cy="1321.9" r="19.6"/><circle cx="1860.7" cy="1313.8" r="19.6"/><circle cx="1898.6" cy="1324.6" r="19.6"/><circle cx="1479.2" cy="645.5" r="19.6"/><circle cx="1582.1" cy="680.7" r="19.6"/><circle cx="1476.5" cy="696.9" r="19.6"/>
<circle cx="1628.1" cy="737.5" r="19.6"/><circle cx="1601.0" cy="791.6" r="19.6"/><circle cx="1565.8" cy="810.5" r="19.6"/><circle cx="1657.8" cy="853.8" r="19.6"/><circle cx="1592.9" cy="867.4" r="19.6"/><circle cx="1546.9" cy="905.2" r="19.6"/>
<circle cx="1603.7" cy="916.1" r="19.6"/><circle cx="1552.3" cy="940.4" r="19.6"/><circle cx="1587.5" cy="948.5" r="19.6"/><circle cx="1182.3" cy="1130.5" r="19.6"/><circle cx="1378.9" cy="1036.3" r="19.6"/><circle cx="1122.8" cy="714.6" r="19.6"/>
<circle cx="1210.0" cy="1091.2" r="19.6"/><circle cx="1270.6" cy="1019.9" r="19.6"/><circle cx="1142.7" cy="917.8" r="19.6"/><circle cx="1319.2" cy="1062.1" r="19.6"/><circle cx="1355.4" cy="778.2" r="19.6"/><circle cx="1379.8" cy="770.6" r="19.6"/>
<circle cx="1125.3" cy="948.9" r="19.6"/><circle cx="1112.2" cy="776.7" r="19.6"/><circle cx="1256.2" cy="742.1" r="19.6"/><circle cx="1320.0" cy="704.5" r="19.6"/><circle cx="1348.6" cy="1037.0" r="19.6"/><circle cx="1192.7" cy="992.1" r="19.6"/>
<circle cx="1338.4" cy="897.3" r="19.6"/><circle cx="1177.2" cy="959.2" r="19.6"/><circle cx="1212.4" cy="1123.3" r="19.6"/><circle cx="1315.2" cy="933.6" r="19.6"/><circle cx="1086.2" cy="745.9" r="19.6"/><circle cx="1414.7" cy="777.4" r="19.6"/>
<circle cx="1117.1" cy="805.0" r="19.6"/><circle cx="1255.4" cy="915.9" r="19.6"/><circle cx="1240.2" cy="755.5" r="19.6"/><circle cx="1281.5" cy="1049.5" r="19.6"/><circle cx="1206.9" cy="1045.7" r="19.6"/><circle cx="1202.7" cy="752.2" r="19.6"/>
<circle cx="1308.3" cy="915.2" r="19.6"/><circle cx="1148.7" cy="864.9" r="19.6"/><circle cx="1312.7" cy="822.6" r="19.6"/><circle cx="1128.8" cy="964.6" r="19.6"/><circle cx="1131.3" cy="731.6" r="19.6"/><circle cx="1387.5" cy="825.2" r="19.6"/>
<circle cx="1164.8" cy="924.8" r="19.6"/><circle cx="1313.3" cy="988.4" r="19.6"/><circle cx="1352.1" cy="791.5" r="19.6"/><circle cx="1214.6" cy="841.3" r="19.6"/><circle cx="1247.8" cy="942.0" r="19.6"/><circle cx="1289.5" cy="699.5" r="19.6"/>
<circle cx="1194.0" cy="1006.4" r="19.6"/><circle cx="1310.5" cy="859.4" r="19.6"/><circle cx="1222.8" cy="793.6" r="19.6"/><circle cx="1329.5" cy="897.1" r="19.6"/><circle cx="1154.7" cy="681.0" r="19.6"/><circle cx="1184.3" cy="1108.2" r="19.6"/>
<circle cx="1306.9" cy="966.7" r="19.6"/><circle cx="1279.6" cy="757.0" r="19.6"/><circle cx="1203.5" cy="754.0" r="19.6"/><circle cx="1185.8" cy="1098.8" r="19.6"/><circle cx="1325.1" cy="1072.4" r="19.6"/><circle cx="1084.5" cy="811.1" r="19.6"/>
<circle cx="1126.8" cy="706.1" r="19.6"/><circle cx="1359.2" cy="778.2" r="19.6"/><circle cx="1098.6" cy="913.2" r="19.6"/><circle cx="1349.5" cy="830.3" r="19.6"/><circle cx="1174.8" cy="686.5" r="19.6"/><circle cx="1093.4" cy="738.1" r="19.6"/>
<circle cx="1132.9" cy="940.0" r="19.6"/><circle cx="1189.4" cy="1135.4" r="19.6"/><circle cx="1260.0" cy="981.9" r="19.6"/><circle cx="1208.4" cy="918.0" r="19.6"/><circle cx="1344.5" cy="739.5" r="19.6"/><circle cx="1253.4" cy="948.7" r="19.6"/>
<circle cx="1346.0" cy="745.3" r="19.6"/><circle cx="1187.4" cy="1058.0" r="19.6"/><circle cx="1300.2" cy="675.1" r="19.6"/><circle cx="1172.5" cy="1050.5" r="19.6"/><circle cx="1170.9" cy="770.6" r="19.6"/><circle cx="1078.4" cy="772.3" r="19.6"/>
<circle cx="1101.8" cy="794.0" r="19.6"/><circle cx="1140.0" cy="844.3" r="19.6"/><circle cx="1311.7" cy="984.7" r="19.6"/><circle cx="1264.7" cy="978.7" r="19.6"/><circle cx="1192.8" cy="858.4" r="19.6"/><circle cx="1310.1" cy="868.9" r="19.6"/>
<circle cx="1097.7" cy="786.3" r="19.6"/><circle cx="1169.0" cy="938.2" r="19.6"/><circle cx="1267.7" cy="971.8" r="19.6"/><circle cx="1247.8" cy="1012.1" r="19.6"/><circle cx="1131.2" cy="966.7" r="19.6"/><circle cx="1136.3" cy="935.8" r="19.6"/>
<circle cx="1149.3" cy="711.1" r="19.6"/><circle cx="1350.5" cy="787.3" r="19.6"/><circle cx="1263.8" cy="674.8" r="19.6"/><circle cx="1265.2" cy="1045.1" r="19.6"/><circle cx="1347.2" cy="824.3" r="19.6"/><circle cx="1170.0" cy="803.9" r="19.6"/>
<circle cx="1134.3" cy="855.4" r="19.6"/><circle cx="1309.1" cy="859.3" r="19.6"/><circle cx="1295.9" cy="1015.7" r="19.6"/><circle cx="1255.4" cy="982.4" r="19.6"/><circle cx="1396.0" cy="742.9" r="19.6"/><circle cx="1212.8" cy="1004.0" r="19.6"/>
<circle cx="1155.2" cy="817.7" r="19.6"/><circle cx="1209.4" cy="854.9" r="19.6"/><circle cx="1090.9" cy="853.7" r="19.6"/><circle cx="1294.4" cy="1021.2" r="19.6"/><circle cx="1141.7" cy="964.3" r="19.6"/><circle cx="1334.6" cy="741.4" r="19.6"/>
<circle cx="1199.9" cy="816.4" r="19.6"/><circle cx="1288.8" cy="818.4" r="19.6"/><circle cx="1071.1" cy="784.4" r="19.6"/><circle cx="1278.9" cy="886.3" r="19.6"/><circle cx="1185.0" cy="854.8" r="19.6"/><circle cx="1195.0" cy="997.5" r="19.6"/>
<circle cx="1351.4" cy="730.3" r="19.6"/><circle cx="1336.1" cy="777.5" r="19.6"/><circle cx="1418.1" cy="774.9" r="19.6"/><circle cx="1244.7" cy="902.5" r="19.6"/><circle cx="1382.8" cy="820.1" r="19.6"/><circle cx="1092.6" cy="755.9" r="19.6"/>
<circle cx="1310.6" cy="1028.5" r="19.6"/><circle cx="1345.7" cy="726.9" r="19.6"/><circle cx="1274.1" cy="979.5" r="19.6"/><circle cx="1417.4" cy="815.7" r="19.6"/><circle cx="1101.4" cy="876.9" r="19.6"/><circle cx="1294.1" cy="779.8" r="19.6"/>
<circle cx="1305.4" cy="906.7" r="19.6"/><circle cx="1108.7" cy="761.3" r="19.6"/><circle cx="1350.1" cy="778.7" r="19.6"/><circle cx="1108.1" cy="684.1" r="19.6"/><circle cx="1196.5" cy="944.6" r="19.6"/><circle cx="1305.6" cy="914.5" r="19.6"/>
<circle cx="1238.7" cy="717.1" r="19.6"/><circle cx="1333.4" cy="1022.2" r="19.6"/><circle cx="1187.7" cy="1114.0" r="19.6"/><circle cx="1183.2" cy="768.4" r="19.6"/><circle cx="1129.0" cy="825.8" r="19.6"/><circle cx="1082.7" cy="744.8" r="19.6"/>
<circle cx="1231.5" cy="931.5" r="19.6"/><circle cx="1263.0" cy="730.2" r="19.6"/><circle cx="1389.6" cy="732.2" r="19.6"/><circle cx="1309.7" cy="933.1" r="19.6"/><circle cx="1151.2" cy="1003.5" r="19.6"/><circle cx="1248.2" cy="843.5" r="19.6"/>
<circle cx="1205.0" cy="763.9" r="19.6"/><circle cx="1293.6" cy="748.3" r="19.6"/><circle cx="1353.9" cy="755.4" r="19.6"/><circle cx="1301.7" cy="948.0" r="19.6"/><circle cx="1351.5" cy="864.4" r="19.6"/><circle cx="1222.9" cy="724.9" r="19.6"/>
<circle cx="1152.1" cy="730.3" r="19.6"/><circle cx="1249.5" cy="1053.0" r="19.6"/><circle cx="1214.6" cy="800.3" r="19.6"/><circle cx="1302.2" cy="934.4" r="19.6"/><circle cx="1154.0" cy="845.9" r="19.6"/><circle cx="1171.2" cy="806.7" r="19.6"/>
<circle cx="1283.7" cy="883.0" r="19.6"/><circle cx="1236.3" cy="717.3" r="19.6"/><circle cx="1232.2" cy="948.6" r="19.6"/><circle cx="1186.2" cy="910.0" r="19.6"/><circle cx="1350.7" cy="1056.1" r="19.6"/><circle cx="1354.4" cy="766.9" r="19.6"/>
<circle cx="1363.1" cy="715.8" r="19.6"/><circle cx="1393.5" cy="792.2" r="19.6"/><circle cx="1363.5" cy="810.0" r="19.6"/><circle cx="1281.8" cy="774.6" r="19.6"/><circle cx="1292.0" cy="678.9" r="19.6"/><circle cx="1296.2" cy="714.7" r="19.6"/>
<circle cx="1198.6" cy="741.7" r="19.6"/><circle cx="1178.0" cy="891.9" r="19.6"/><circle cx="1300.6" cy="970.5" r="19.6"/><circle cx="1250.4" cy="1075.5" r="19.6"/><circle cx="1208.6" cy="736.0" r="19.6"/><circle cx="1310.3" cy="838.1" r="19.6"/>
<circle cx="1361.2" cy="843.2" r="19.6"/><circle cx="1281.8" cy="703.3" r="19.6"/><circle cx="1131.5" cy="716.8" r="19.6"/><circle cx="1205.6" cy="821.9" r="19.6"/><circle cx="1263.1" cy="977.8" r="19.6"/><circle cx="1145.4" cy="795.4" r="19.6"/>
<circle cx="1197.8" cy="1097.8" r="19.6"/><circle cx="1126.3" cy="862.3" r="19.6"/><circle cx="1212.3" cy="825.6" r="19.6"/><circle cx="1200.9" cy="797.6" r="19.6"/><circle cx="1207.6" cy="755.4" r="19.6"/><circle cx="1392.3" cy="842.5" r="19.6"/>
<circle cx="1227.4" cy="928.2" r="19.6"/><circle cx="1299.3" cy="1055.8" r="19.6"/><circle cx="1248.3" cy="875.1" r="19.6"/><circle cx="1117.8" cy="741.0" r="19.6"/><circle cx="1209.1" cy="1066.8" r="19.6"/><circle cx="1209.6" cy="928.9" r="19.6"/>
<circle cx="1154.3" cy="821.7" r="19.6"/><circle cx="1237.6" cy="1017.4" r="19.6"/><circle cx="1268.4" cy="709.5" r="19.6"/><circle cx="1156.1" cy="820.3" r="19.6"/><circle cx="1346.5" cy="832.9" r="19.6"/><circle cx="1312.3" cy="921.6" r="19.6"/>
<circle cx="1312.9" cy="829.2" r="19.6"/><circle cx="1226.7" cy="1126.1" r="19.6"/><circle cx="1327.6" cy="942.1" r="19.6"/><circle cx="1214.7" cy="995.7" r="19.6"/><circle cx="1146.3" cy="836.1" r="19.6"/><circle cx="1174.9" cy="1059.1" r="19.6"/>
<circle cx="1309.3" cy="876.7" r="19.6"/><circle cx="1303.2" cy="986.1" r="19.6"/><circle cx="1288.9" cy="760.4" r="19.6"/><circle cx="1174.1" cy="830.5" r="19.6"/><circle cx="1357.7" cy="1047.4" r="19.6"/><circle cx="1272.3" cy="778.0" r="19.6"/>
<circle cx="1229.3" cy="732.0" r="19.6"/><circle cx="1284.0" cy="821.3" r="19.6"/><circle cx="1093.0" cy="731.2" r="19.6"/><circle cx="1178.1" cy="875.2" r="19.6"/><circle cx="1298.5" cy="834.2" r="19.6"/><circle cx="1199.3" cy="871.3" r="19.6"/>
<circle cx="1221.1" cy="722.9" r="19.6"/><circle cx="1294.2" cy="933.4" r="19.6"/><circle cx="1422.0" cy="798.6" r="19.6"/><circle cx="1182.7" cy="1041.0" r="19.6"/><circle cx="1244.0" cy="938.4" r="19.6"/><circle cx="1339.6" cy="1027.1" r="19.6"/>
<circle cx="1154.8" cy="900.3" r="19.6"/><circle cx="1300.2" cy="679.4" r="19.6"/><circle cx="1192.0" cy="1006.7" r="19.6"/><circle cx="1146.5" cy="697.1" r="19.6"/><circle cx="1276.5" cy="1035.1" r="19.6"/><circle cx="1248.3" cy="936.5" r="19.6"/>
<circle cx="1090.7" cy="820.6" r="19.6"/><circle cx="1275.8" cy="1051.6" r="19.6"/><circle cx="1176.7" cy="1065.5" r="19.6"/><circle cx="1274.3" cy="932.8" r="19.6"/><circle cx="1107.3" cy="868.4" r="19.6"/><circle cx="1406.2" cy="759.7" r="19.6"/>
<circle cx="1189.3" cy="774.7" r="19.6"/><circle cx="1215.7" cy="1107.7" r="19.6"/><circle cx="1209.7" cy="1127.4" r="19.6"/><circle cx="1257.3" cy="974.0" r="19.6"/><circle cx="1172.4" cy="790.1" r="19.6"/><circle cx="1096.8" cy="789.4" r="19.6"/>
<circle cx="1375.1" cy="770.2" r="19.6"/><circle cx="1106.3" cy="755.5" r="19.6"/><circle cx="1381.0" cy="710.9" r="19.6"/><circle cx="1349.1" cy="707.4" r="19.6"/><circle cx="1382.2" cy="719.5" r="19.6"/><circle cx="1266.5" cy="868.4" r="19.6"/>
<circle cx="1263.0" cy="1113.6" r="19.6"/><circle cx="1388.4" cy="745.2" r="19.6"/><circle cx="1077.6" cy="761.8" r="19.6"/><circle cx="1244.6" cy="999.9" r="19.6"/><circle cx="1298.8" cy="954.9" r="19.6"/><circle cx="1298.7" cy="858.6" r="19.6"/>
<circle cx="1301.9" cy="1067.6" r="19.6"/><circle cx="1306.7" cy="701.6" r="19.6"/><circle cx="1178.0" cy="885.2" r="19.6"/><circle cx="1170.2" cy="761.9" r="19.6"/><circle cx="1195.3" cy="1066.3" r="19.6"/><circle cx="1323.6" cy="1028.6" r="19.6"/>
<circle cx="1091.6" cy="856.8" r="19.6"/><circle cx="1161.0" cy="716.0" r="19.6"/><circle cx="1195.3" cy="875.6" r="19.6"/><circle cx="1270.7" cy="832.3" r="19.6"/><circle cx="1082.1" cy="824.5" r="19.6"/><circle cx="1249.7" cy="676.3" r="19.6"/>
<circle cx="1376.5" cy="761.1" r="19.6"/><circle cx="1254.1" cy="710.7" r="19.6"/><circle cx="1259.2" cy="1046.8" r="19.6"/><circle cx="1322.2" cy="957.4" r="19.6"/><circle cx="1328.0" cy="708.5" r="19.6"/><circle cx="1376.2" cy="708.8" r="19.6"/>
<circle cx="1144.9" cy="796.3" r="19.6"/><circle cx="1311.1" cy="855.5" r="19.6"/><circle cx="1199.4" cy="907.4" r="19.6"/><circle cx="1335.4" cy="1069.3" r="19.6"/><circle cx="1369.4" cy="802.6" r="19.6"/><circle cx="1148.1" cy="975.9" r="19.6"/>
<circle cx="1198.2" cy="1101.5" r="19.6"/><circle cx="1228.5" cy="792.8" r="19.6"/><circle cx="1230.8" cy="1060.0" r="19.6"/><circle cx="1133.2" cy="726.0" r="19.6"/><circle cx="1220.9" cy="815.9" r="19.6"/><circle cx="1353.7" cy="788.6" r="19.6"/>
<circle cx="1211.2" cy="1137.0" r="19.6"/><circle cx="1371.5" cy="787.8" r="19.6"/><circle cx="1159.0" cy="797.2" r="19.6"/><circle cx="1315.1" cy="1044.5" r="19.6"/><circle cx="1294.3" cy="792.2" r="19.6"/><circle cx="1088.8" cy="790.8" r="19.6"/>
<circle cx="1254.0" cy="820.9" r="19.6"/><circle cx="1163.4" cy="827.3" r="19.6"/><circle cx="1275.6" cy="747.9" r="19.6"/><circle cx="1335.9" cy="839.3" r="19.6"/><circle cx="1148.7" cy="947.0" r="19.6"/><circle cx="1220.6" cy="971.0" r="19.6"/>
<circle cx="1189.6" cy="1006.8" r="19.6"/><circle cx="1236.0" cy="743.6" r="19.6"/><circle cx="1168.9" cy="759.1" r="19.6"/><circle cx="1367.5" cy="1019.3" r="19.6"/><circle cx="1166.6" cy="811.9" r="19.6"/><circle cx="1103.3" cy="877.9" r="19.6"/>
<circle cx="1356.7" cy="728.3" r="19.6"/><circle cx="1330.7" cy="913.5" r="19.6"/><circle cx="1183.5" cy="1087.8" r="19.6"/><circle cx="1278.1" cy="821.7" r="19.6"/><circle cx="1316.5" cy="808.6" r="19.6"/><circle cx="1105.5" cy="814.0" r="19.6"/>
<circle cx="1227.6" cy="1072.8" r="19.6"/><circle cx="1232.1" cy="728.6" r="19.6"/><circle cx="1258.7" cy="1097.4" r="19.6"/><circle cx="1206.6" cy="852.4" r="19.6"/><circle cx="1218.5" cy="865.9" r="19.6"/><circle cx="1172.3" cy="870.4" r="19.6"/>
<circle cx="1366.8" cy="764.7" r="19.6"/><circle cx="1245.9" cy="794.7" r="19.6"/><circle cx="1282.4" cy="927.7" r="19.6"/><circle cx="1303.6" cy="712.6" r="19.6"/><circle cx="1290.8" cy="984.2" r="19.6"/><circle cx="1371.5" cy="1046.9" r="19.6"/>
<circle cx="1395.4" cy="741.2" r="19.6"/><circle cx="1154.2" cy="767.5" r="19.6"/><circle cx="1322.3" cy="1047.5" r="19.6"/><circle cx="1162.4" cy="936.9" r="19.6"/><circle cx="1260.7" cy="736.3" r="19.6"/><circle cx="1246.0" cy="932.8" r="19.6"/>
<circle cx="1335.0" cy="758.5" r="19.6"/><circle cx="1260.8" cy="690.7" r="19.6"/><circle cx="1256.9" cy="750.6" r="19.6"/><circle cx="1158.3" cy="859.6" r="19.6"/><circle cx="1150.3" cy="792.0" r="19.6"/><circle cx="1170.8" cy="906.1" r="19.6"/>
<circle cx="1410.7" cy="767.1" r="19.6"/><circle cx="1120.5" cy="687.5" r="19.6"/><circle cx="1364.0" cy="738.6" r="19.6"/><circle cx="1220.0" cy="988.7" r="19.6"/><circle cx="1253.3" cy="1017.8" r="19.6"/><circle cx="1275.7" cy="960.1" r="19.6"/>
<circle cx="1273.5" cy="879.1" r="19.6"/><circle cx="1234.7" cy="706.2" r="19.6"/><circle cx="1276.8" cy="758.0" r="19.6"/><circle cx="1310.0" cy="861.0" r="19.6"/><circle cx="1300.0" cy="792.4" r="19.6"/><circle cx="1362.2" cy="768.0" r="19.6"/>
<circle cx="1335.4" cy="1034.4" r="19.6"/><circle cx="1349.3" cy="866.8" r="19.6"/><circle cx="1172.9" cy="1059.9" r="19.6"/><circle cx="1336.4" cy="755.9" r="19.6"/><circle cx="1320.6" cy="689.4" r="19.6"/><circle cx="1378.4" cy="807.9" r="19.6"/>
<circle cx="1331.4" cy="715.5" r="19.6"/><circle cx="1376.1" cy="1058.6" r="19.6"/><circle cx="1246.2" cy="936.8" r="19.6"/><circle cx="1138.0" cy="841.5" r="19.6"/><circle cx="1111.5" cy="855.5" r="19.6"/><circle cx="1239.0" cy="837.2" r="19.6"/>
<circle cx="1184.7" cy="1123.0" r="19.6"/><circle cx="1186.5" cy="737.4" r="19.6"/><circle cx="1410.4" cy="773.8" r="19.6"/><circle cx="1264.0" cy="865.1" r="19.6"/><circle cx="1107.7" cy="845.3" r="19.6"/><circle cx="1096.5" cy="874.0" r="19.6"/>
<circle cx="1294.3" cy="864.1" r="19.6"/><circle cx="1281.5" cy="1019.0" r="19.6"/><circle cx="1328.9" cy="936.8" r="19.6"/><circle cx="1198.9" cy="1068.2" r="19.6"/><circle cx="1168.9" cy="768.2" r="19.6"/><circle cx="1413.6" cy="781.4" r="19.6"/>
<circle cx="1222.9" cy="928.1" r="19.6"/><circle cx="1210.7" cy="929.8" r="19.6"/><circle cx="1193.9" cy="948.1" r="19.6"/><circle cx="1111.9" cy="763.8" r="19.6"/><circle cx="1139.2" cy="935.8" r="19.6"/><circle cx="1166.3" cy="838.6" r="19.6"/>
<circle cx="1127.6" cy="770.8" r="19.6"/><circle cx="1341.5" cy="878.5" r="19.6"/><circle cx="1171.1" cy="841.6" r="19.6"/><circle cx="1174.9" cy="795.0" r="19.6"/><circle cx="1393.0" cy="759.3" r="19.6"/><circle cx="1095.3" cy="826.3" r="19.6"/>
<circle cx="1363.9" cy="1072.9" r="19.6"/><circle cx="1355.1" cy="846.5" r="19.6"/><circle cx="1119.6" cy="801.9" r="19.6"/><circle cx="1215.8" cy="908.8" r="19.6"/><circle cx="1130.6" cy="917.4" r="19.6"/><circle cx="1265.4" cy="1016.9" r="19.6"/>
<circle cx="1087.9" cy="840.3" r="19.6"/><circle cx="1382.8" cy="1046.0" r="19.6"/><circle cx="1173.4" cy="851.0" r="19.6"/><circle cx="1408.3" cy="755.3" r="19.6"/><circle cx="1353.1" cy="752.4" r="19.6"/><circle cx="1225.1" cy="927.7" r="19.6"/>
<circle cx="1125.0" cy="801.6" r="19.6"/><circle cx="1192.9" cy="1069.1" r="19.6"/><circle cx="1138.0" cy="874.3" r="19.6"/><circle cx="1202.3" cy="913.7" r="19.6"/><circle cx="1135.9" cy="689.6" r="19.6"/><circle cx="1271.4" cy="883.5" r="19.6"/>
<circle cx="1165.6" cy="1010.4" r="19.6"/><circle cx="1241.5" cy="699.8" r="19.6"/><circle cx="1242.0" cy="829.1" r="19.6"/><circle cx="1132.0" cy="718.1" r="19.6"/><circle cx="1310.7" cy="932.1" r="19.6"/><circle cx="1201.2" cy="1004.5" r="19.6"/>
<circle cx="1381.1" cy="842.1" r="19.6"/><circle cx="1251.4" cy="1093.9" r="19.6"/><circle cx="1155.2" cy="883.3" r="19.6"/><circle cx="1236.6" cy="839.7" r="19.6"/><circle cx="1264.1" cy="1044.3" r="19.6"/><circle cx="1317.0" cy="798.3" r="19.6"/>
<circle cx="1220.7" cy="785.4" r="19.6"/><circle cx="1250.4" cy="766.9" r="19.6"/><circle cx="1082.8" cy="793.7" r="19.6"/><circle cx="1088.8" cy="810.5" r="19.6"/><circle cx="1178.1" cy="815.8" r="19.6"/><circle cx="1230.3" cy="707.2" r="19.6"/>
<circle cx="1220.2" cy="826.6" r="19.6"/><circle cx="1141.5" cy="785.5" r="19.6"/><circle cx="1084.2" cy="836.1" r="19.6"/><circle cx="1102.5" cy="709.0" r="19.6"/><circle cx="1329.0" cy="991.9" r="19.6"/><circle cx="1163.3" cy="886.2" r="19.6"/>
<circle cx="1258.4" cy="857.5" r="19.6"/><circle cx="1227.7" cy="897.7" r="19.6"/><circle cx="1248.1" cy="685.4" r="19.6"/><circle cx="1376.9" cy="766.2" r="19.6"/><circle cx="1098.1" cy="779.0" r="19.6"/><circle cx="1079.6" cy="775.1" r="19.6"/>
<circle cx="1374.5" cy="1044.9" r="19.6"/><circle cx="1269.2" cy="763.6" r="19.6"/><circle cx="1233.4" cy="1059.3" r="19.6"/><circle cx="1173.1" cy="931.1" r="19.6"/><circle cx="1425.8" cy="811.7" r="19.6"/><circle cx="1366.8" cy="739.4" r="19.6"/>
<circle cx="1156.8" cy="1009.4" r="19.6"/><circle cx="1080.7" cy="730.8" r="19.6"/><circle cx="1173.6" cy="915.5" r="19.6"/><circle cx="1145.4" cy="727.5" r="19.6"/><circle cx="1097.9" cy="842.5" r="19.6"/><circle cx="1173.9" cy="685.8" r="19.6"/>
<circle cx="1320.1" cy="753.2" r="19.6"/><circle cx="1268.0" cy="707.7" r="19.6"/><circle cx="1229.0" cy="1058.2" r="19.6"/><circle cx="1126.6" cy="889.6" r="19.6"/><circle cx="1390.9" cy="795.3" r="19.6"/><circle cx="1346.3" cy="704.1" r="19.6"/>
<circle cx="1377.8" cy="806.3" r="19.6"/><circle cx="1208.8" cy="825.8" r="19.6"/><circle cx="1127.8" cy="824.9" r="19.6"/><circle cx="1307.3" cy="932.8" r="19.6"/><circle cx="1135.1" cy="902.0" r="19.6"/><circle cx="1184.1" cy="776.6" r="19.6"/>
<circle cx="1258.2" cy="798.9" r="19.6"/><circle cx="1191.7" cy="809.1" r="19.6"/><circle cx="1236.2" cy="1019.5" r="19.6"/><circle cx="1260.0" cy="1060.4" r="19.6"/><circle cx="1221.9" cy="1071.2" r="19.6"/><circle cx="1327.4" cy="760.5" r="19.6"/>
<circle cx="1309.9" cy="805.3" r="19.6"/><circle cx="1092.5" cy="730.1" r="19.6"/><circle cx="1217.0" cy="1121.3" r="19.6"/><circle cx="1144.5" cy="927.1" r="19.6"/><circle cx="1219.4" cy="748.6" r="19.6"/><circle cx="1313.9" cy="812.6" r="19.6"/>
<circle cx="1338.7" cy="689.3" r="19.6"/><circle cx="1224.0" cy="819.8" r="19.6"/><circle cx="1299.5" cy="817.2" r="19.6"/><circle cx="1315.5" cy="688.8" r="19.6"/><circle cx="1204.0" cy="1058.9" r="19.6"/><circle cx="1330.7" cy="817.0" r="19.6"/>
<circle cx="1213.7" cy="1082.5" r="19.6"/><circle cx="1369.0" cy="765.1" r="19.6"/><circle cx="1151.2" cy="961.1" r="19.6"/><circle cx="1161.9" cy="900.1" r="19.6"/><circle cx="1253.8" cy="855.1" r="19.6"/><circle cx="1102.4" cy="803.0" r="19.6"/>
<circle cx="1356.8" cy="1049.9" r="19.6"/><circle cx="1230.0" cy="859.2" r="19.6"/><circle cx="1272.7" cy="983.6" r="19.6"/><circle cx="1310.6" cy="814.5" r="19.6"/><circle cx="1264.9" cy="697.0" r="19.6"/><circle cx="1112.2" cy="685.4" r="19.6"/>
<circle cx="1369.6" cy="732.1" r="19.6"/><circle cx="1194.4" cy="824.7" r="19.6"/><circle cx="1314.5" cy="702.0" r="19.6"/><circle cx="1266.9" cy="836.4" r="19.6"/><circle cx="1084.7" cy="803.9" r="19.6"/><circle cx="1154.6" cy="1015.3" r="19.6"/>
<circle cx="1365.7" cy="718.0" r="19.6"/><circle cx="1204.5" cy="869.9" r="19.6"/><circle cx="1331.2" cy="996.6" r="19.6"/><circle cx="1385.5" cy="811.0" r="19.6"/><circle cx="1299.8" cy="982.9" r="19.6"/><circle cx="1345.9" cy="801.5" r="19.6"/>
<circle cx="1369.2" cy="825.4" r="19.6"/><circle cx="1169.1" cy="937.2" r="19.6"/><circle cx="1282.9" cy="890.2" r="19.6"/><circle cx="1364.5" cy="1028.5" r="19.6"/><circle cx="1251.1" cy="1090.3" r="19.6"/><circle cx="1205.0" cy="853.5" r="19.6"/>
<circle cx="1419.5" cy="817.5" r="19.6"/><circle cx="1311.7" cy="820.7" r="19.6"/><circle cx="1224.1" cy="920.8" r="19.6"/><circle cx="1095.0" cy="877.4" r="19.6"/><circle cx="1218.5" cy="858.6" r="19.6"/><circle cx="1340.0" cy="1033.8" r="19.6"/>
<circle cx="1129.8" cy="932.7" r="19.6"/><circle cx="1205.1" cy="1089.2" r="19.6"/><circle cx="1163.3" cy="719.2" r="19.6"/><circle cx="1186.8" cy="921.9" r="19.6"/><circle cx="1345.9" cy="808.9" r="19.6"/><circle cx="1081.7" cy="783.8" r="19.6"/>
<circle cx="1219.0" cy="1041.1" r="19.6"/><circle cx="1248.9" cy="995.8" r="19.6"/><circle cx="1289.4" cy="805.3" r="19.6"/><circle cx="1326.8" cy="944.1" r="19.6"/><circle cx="1223.5" cy="729.6" r="19.6"/><circle cx="1118.7" cy="763.4" r="19.6"/>
<circle cx="1316.0" cy="824.2" r="19.6"/><circle cx="1218.6" cy="1022.9" r="19.6"/><circle cx="1165.0" cy="806.8" r="19.6"/><circle cx="1364.3" cy="1023.0" r="19.6"/><circle cx="1332.7" cy="806.4" r="19.6"/><circle cx="1267.9" cy="1011.0" r="19.6"/>
<circle cx="1121.4" cy="889.8" r="19.6"/><circle cx="1252.6" cy="1016.7" r="19.6"/><circle cx="1248.7" cy="780.3" r="19.6"/><circle cx="1192.0" cy="1122.6" r="19.6"/><circle cx="1308.2" cy="1009.7" r="19.6"/><circle cx="1243.3" cy="810.3" r="19.6"/>
<circle cx="1192.0" cy="1139.1" r="19.6"/><circle cx="1143.2" cy="854.1" r="19.6"/><circle cx="1300.3" cy="731.2" r="19.6"/><circle cx="1112.1" cy="709.4" r="19.6"/><circle cx="1100.4" cy="801.5" r="19.6"/><circle cx="1301.9" cy="694.7" r="19.6"/>
<circle cx="1079.0" cy="757.4" r="19.6"/><circle cx="1344.1" cy="785.9" r="19.6"/><circle cx="1333.2" cy="745.2" r="19.6"/><circle cx="1291.3" cy="990.0" r="19.6"/><circle cx="1293.2" cy="750.4" r="19.6"/><circle cx="1228.9" cy="787.9" r="19.6"/>
<circle cx="1176.2" cy="826.1" r="19.6"/><circle cx="1393.2" cy="756.1" r="19.6"/><circle cx="1203.0" cy="1041.6" r="19.6"/><circle cx="1239.9" cy="884.1" r="19.6"/><circle cx="1243.3" cy="856.6" r="19.6"/><circle cx="1243.0" cy="889.2" r="19.6"/>
<circle cx="1288.9" cy="1001.1" r="19.6"/><circle cx="1268.3" cy="782.3" r="19.6"/><circle cx="1262.8" cy="978.7" r="19.6"/><circle cx="1264.9" cy="760.6" r="19.6"/><circle cx="1159.6" cy="685.9" r="19.6"/><circle cx="1212.2" cy="943.9" r="19.6"/>
<circle cx="1187.5" cy="987.6" r="19.6"/><circle cx="1198.7" cy="892.2" r="19.6"/><circle cx="1131.2" cy="922.0" r="19.6"/><circle cx="1136.8" cy="772.7" r="19.6"/><circle cx="1215.4" cy="972.1" r="19.6"/><circle cx="1247.1" cy="776.1" r="19.6"/>
<circle cx="1267.8" cy="1003.5" r="19.6"/><circle cx="1135.3" cy="724.8" r="19.6"/><circle cx="1377.8" cy="830.9" r="19.6"/><circle cx="1264.3" cy="900.9" r="19.6"/><circle cx="1246.0" cy="817.5" r="19.6"/><circle cx="1240.8" cy="1074.4" r="19.6"/>
<circle cx="1118.4" cy="810.7" r="19.6"/><circle cx="1341.6" cy="869.1" r="19.6"/><circle cx="1135.6" cy="698.4" r="19.6"/><circle cx="1406.6" cy="781.7" r="19.6"/><circle cx="1243.7" cy="871.9" r="19.6"/><circle cx="1239.2" cy="1061.4" r="19.6"/>
<circle cx="1231.6" cy="1101.6" r="19.6"/><circle cx="1220.8" cy="812.2" r="19.6"/><circle cx="1233.6" cy="983.8" r="19.6"/><circle cx="1158.6" cy="694.3" r="19.6"/><circle cx="1274.0" cy="998.7" r="19.6"/><circle cx="1253.9" cy="864.1" r="19.6"/>
<circle cx="1092.7" cy="885.1" r="19.6"/><circle cx="1272.1" cy="784.9" r="19.6"/><circle cx="1335.9" cy="789.6" r="19.6"/><circle cx="1310.9" cy="883.1" r="19.6"/><circle cx="1175.0" cy="711.4" r="19.6"/><circle cx="1283.0" cy="691.6" r="19.6"/>
<circle cx="1230.0" cy="861.6" r="19.6"/><circle cx="1164.7" cy="787.4" r="19.6"/><circle cx="1236.9" cy="1089.1" r="19.6"/><circle cx="1350.6" cy="814.1" r="19.6"/><circle cx="1276.8" cy="969.0" r="19.6"/><circle cx="1079.9" cy="735.6" r="19.6"/>
<circle cx="1348.5" cy="792.6" r="19.6"/><circle cx="1267.0" cy="692.4" r="19.6"/><circle cx="1271.7" cy="804.9" r="19.6"/><circle cx="1144.9" cy="914.1" r="19.6"/><circle cx="1244.4" cy="827.5" r="19.6"/><circle cx="1281.4" cy="1003.1" r="19.6"/>
<circle cx="1087.7" cy="785.5" r="19.6"/><circle cx="1118.3" cy="924.7" r="19.6"/><circle cx="1191.2" cy="740.9" r="19.6"/><circle cx="1207.0" cy="921.1" r="19.6"/><circle cx="1192.7" cy="977.2" r="19.6"/><circle cx="1202.9" cy="882.0" r="19.6"/>
<circle cx="1311.0" cy="1022.3" r="19.6"/><circle cx="1185.1" cy="819.0" r="19.6"/><circle cx="1221.6" cy="1119.7" r="19.6"/><circle cx="1168.0" cy="775.8" r="19.6"/><circle cx="1216.1" cy="826.4" r="19.6"/><circle cx="1209.0" cy="918.8" r="19.6"/>
<circle cx="1291.0" cy="1028.0" r="19.6"/><circle cx="1219.6" cy="751.1" r="19.6"/><circle cx="1103.0" cy="807.3" r="19.6"/><circle cx="1312.1" cy="686.1" r="19.6"/><circle cx="1161.4" cy="852.2" r="19.6"/><circle cx="1157.9" cy="972.2" r="19.6"/>
<circle cx="1329.0" cy="889.8" r="19.6"/><circle cx="1331.4" cy="784.5" r="19.6"/><circle cx="1320.7" cy="742.0" r="19.6"/><circle cx="1289.5" cy="1045.3" r="19.6"/><circle cx="1079.7" cy="801.5" r="19.6"/><circle cx="1179.1" cy="1090.5" r="19.6"/>
<circle cx="1257.7" cy="882.2" r="19.6"/><circle cx="1309.6" cy="803.8" r="19.6"/><circle cx="1231.2" cy="1082.3" r="19.6"/><circle cx="1091.8" cy="750.5" r="19.6"/><circle cx="1139.5" cy="924.7" r="19.6"/><circle cx="1171.4" cy="892.3" r="19.6"/>
<circle cx="1078.6" cy="811.4" r="19.6"/><circle cx="1300.3" cy="933.9" r="19.6"/><circle cx="1337.4" cy="713.9" r="19.6"/><circle cx="1315.3" cy="861.8" r="19.6"/><circle cx="1379.5" cy="713.6" r="19.6"/><circle cx="1182.0" cy="744.2" r="19.6"/>
<circle cx="1386.4" cy="837.2" r="19.6"/><circle cx="1103.1" cy="891.5" r="19.6"/><circle cx="1191.1" cy="1059.2" r="19.6"/><circle cx="1308.2" cy="1014.8" r="19.6"/><circle cx="1229.6" cy="976.9" r="19.6"/><circle cx="1273.9" cy="878.3" r="19.6"/>
<circle cx="1106.1" cy="927.0" r="19.6"/><circle cx="1251.6" cy="832.5" r="19.6"/><circle cx="1245.0" cy="848.3" r="19.6"/><circle cx="1245.1" cy="1020.3" r="19.6"/><circle cx="1301.2" cy="1003.6" r="19.6"/><circle cx="1277.0" cy="699.2" r="19.6"/>
<circle cx="1296.0" cy="1082.2" r="19.6"/><circle cx="1304.0" cy="1070.4" r="19.6"/><circle cx="1110.4" cy="884.9" r="19.6"/><circle cx="1087.4" cy="765.0" r="19.6"/><circle cx="1145.0" cy="788.7" r="19.6"/><circle cx="1296.5" cy="863.5" r="19.6"/>
<circle cx="1213.4" cy="978.3" r="19.6"/><circle cx="1132.4" cy="904.4" r="19.6"/><circle cx="1389.6" cy="756.0" r="19.6"/><circle cx="1121.2" cy="683.1" r="19.6"/><circle cx="1202.4" cy="971.3" r="19.6"/><circle cx="1295.1" cy="1077.3" r="19.6"/>
<circle cx="1160.8" cy="799.4" r="19.6"/><circle cx="1277.0" cy="732.3" r="19.6"/><circle cx="1337.4" cy="722.7" r="19.6"/><circle cx="1366.2" cy="806.5" r="19.6"/><circle cx="1341.7" cy="764.2" r="19.6"/><circle cx="1305.3" cy="981.5" r="19.6"/>
<circle cx="1204.7" cy="932.8" r="19.6"/><circle cx="1255.2" cy="1070.2" r="19.6"/><circle cx="1241.1" cy="715.3" r="19.6"/><circle cx="1136.1" cy="731.5" r="19.6"/><circle cx="1126.9" cy="709.8" r="19.6"/><circle cx="1246.2" cy="763.5" r="19.6"/>
<circle cx="1222.6" cy="986.3" r="19.6"/><circle cx="1206.8" cy="937.1" r="19.6"/><circle cx="1264.0" cy="770.9" r="19.6"/><circle cx="1123.3" cy="876.5" r="19.6"/><circle cx="1319.0" cy="824.3" r="19.6"/><circle cx="1155.3" cy="953.4" r="19.6"/>
<circle cx="1323.9" cy="801.9" r="19.6"/><circle cx="1399.7" cy="786.8" r="19.6"/><circle cx="1251.9" cy="943.5" r="19.6"/><circle cx="1317.8" cy="853.4" r="19.6"/><circle cx="1264.9" cy="745.2" r="19.6"/><circle cx="1132.6" cy="826.0" r="19.6"/>
<circle cx="1345.4" cy="814.9" r="19.6"/><circle cx="1366.7" cy="835.0" r="19.6"/><circle cx="1241.8" cy="1035.2" r="19.6"/><circle cx="1348.6" cy="772.5" r="19.6"/><circle cx="1389.2" cy="830.8" r="19.6"/><circle cx="1288.8" cy="1056.3" r="19.6"/>
<circle cx="1192.0" cy="861.6" r="19.6"/><circle cx="1284.9" cy="814.5" r="19.6"/><circle cx="1222.3" cy="1093.4" r="19.6"/><circle cx="1339.3" cy="791.9" r="19.6"/><circle cx="1081.7" cy="818.3" r="19.6"/><circle cx="1277.1" cy="945.4" r="19.6"/>
<circle cx="1174.5" cy="850.7" r="19.6"/><circle cx="1148.9" cy="764.1" r="19.6"/><circle cx="1388.1" cy="826.8" r="19.6"/><circle cx="1355.5" cy="694.7" r="19.6"/><circle cx="1243.1" cy="976.3" r="19.6"/><circle cx="1317.4" cy="889.4" r="19.6"/>
<circle cx="1120.4" cy="927.4" r="19.6"/><circle cx="1383.6" cy="808.0" r="19.6"/><circle cx="1207.1" cy="985.0" r="19.6"/><circle cx="1186.7" cy="978.1" r="19.6"/><circle cx="1211.1" cy="745.5" r="19.6"/><circle cx="1086.2" cy="873.0" r="19.6"/>
<circle cx="1182.9" cy="1051.5" r="19.6"/><circle cx="1279.6" cy="940.1" r="19.6"/><circle cx="1286.1" cy="943.3" r="19.6"/><circle cx="1413.7" cy="774.2" r="19.6"/><circle cx="1243.9" cy="703.0" r="19.6"/><circle cx="1255.7" cy="795.4" r="19.6"/>
<circle cx="1212.0" cy="1111.5" r="19.6"/><circle cx="1141.6" cy="730.4" r="19.6"/><circle cx="1206.0" cy="796.8" r="19.6"/><circle cx="1341.6" cy="1008.5" r="19.6"/><circle cx="1143.5" cy="697.3" r="19.6"/><circle cx="1119.7" cy="943.4" r="19.6"/>
<circle cx="1342.8" cy="1010.6" r="19.6"/><circle cx="1116.0" cy="855.1" r="19.6"/><circle cx="1340.7" cy="740.0" r="19.6"/><circle cx="1353.5" cy="748.9" r="19.6"/><circle cx="1295.8" cy="970.6" r="19.6"/><circle cx="1236.5" cy="754.3" r="19.6"/>
<circle cx="1266.5" cy="894.0" r="19.6"/><circle cx="1198.7" cy="1017.8" r="19.6"/><circle cx="1266.8" cy="836.0" r="19.6"/><circle cx="1374.0" cy="1050.1" r="19.6"/><circle cx="1412.1" cy="789.2" r="19.6"/><circle cx="1295.2" cy="779.2" r="19.6"/>
<circle cx="1398.0" cy="736.2" r="19.6"/><circle cx="1353.7" cy="769.1" r="19.6"/><circle cx="1408.0" cy="771.5" r="19.6"/><circle cx="1135.2" cy="781.5" r="19.6"/><circle cx="1232.6" cy="753.0" r="19.6"/><circle cx="1183.1" cy="789.7" r="19.6"/>
<circle cx="1106.8" cy="766.0" r="19.6"/><circle cx="1157.7" cy="817.4" r="19.6"/><circle cx="1317.1" cy="695.7" r="19.6"/><circle cx="1263.4" cy="1054.7" r="19.6"/><circle cx="1145.9" cy="969.9" r="19.6"/><circle cx="1241.9" cy="842.6" r="19.6"/>
<circle cx="1198.4" cy="756.5" r="19.6"/><circle cx="1097.0" cy="816.9" r="19.6"/><circle cx="1235.1" cy="836.2" r="19.6"/><circle cx="1163.1" cy="732.6" r="19.6"/><circle cx="1163.1" cy="815.3" r="19.6"/><circle cx="1242.9" cy="758.0" r="19.6"/>
<circle cx="1250.7" cy="905.5" r="19.6"/><circle cx="1257.1" cy="785.3" r="19.6"/><circle cx="1321.8" cy="781.3" r="19.6"/><circle cx="1370.6" cy="799.9" r="19.6"/><circle cx="1134.5" cy="800.8" r="19.6"/><circle cx="1314.5" cy="850.5" r="19.6"/>
<circle cx="1202.5" cy="1105.3" r="19.6"/><circle cx="1263.4" cy="848.0" r="19.6"/><circle cx="1274.9" cy="862.8" r="19.6"/><circle cx="1414.2" cy="793.2" r="19.6"/><circle cx="1362.6" cy="1044.0" r="19.6"/><circle cx="1313.0" cy="1048.8" r="19.6"/>
<circle cx="1247.8" cy="735.2" r="19.6"/><circle cx="1235.2" cy="1124.5" r="19.6"/><circle cx="1392.4" cy="820.0" r="19.6"/><circle cx="1296.7" cy="680.7" r="19.6"/><circle cx="1323.3" cy="946.0" r="19.6"/><circle cx="1200.4" cy="796.9" r="19.6"/>
<circle cx="1087.3" cy="781.3" r="19.6"/><circle cx="1215.2" cy="870.4" r="19.6"/><circle cx="1161.7" cy="751.5" r="19.6"/><circle cx="1230.7" cy="827.5" r="19.6"/><circle cx="1368.7" cy="1029.8" r="19.6"/><circle cx="1419.1" cy="818.2" r="19.6"/>
<circle cx="1417.7" cy="789.3" r="19.6"/><circle cx="1310.7" cy="794.0" r="19.6"/><circle cx="1194.3" cy="961.3" r="19.6"/><circle cx="1254.6" cy="862.8" r="19.6"/><circle cx="1310.5" cy="862.3" r="19.6"/><circle cx="1276.1" cy="961.4" r="19.6"/>
<circle cx="1242.5" cy="922.2" r="19.6"/><circle cx="1172.2" cy="776.3" r="19.6"/><circle cx="1220.3" cy="744.3" r="19.6"/><circle cx="1299.1" cy="751.4" r="19.6"/><circle cx="1167.5" cy="763.0" r="19.6"/><circle cx="1307.5" cy="908.4" r="19.6"/>
<circle cx="1123.0" cy="792.1" r="19.6"/><circle cx="1262.6" cy="787.3" r="19.6"/><circle cx="1246.3" cy="889.9" r="19.6"/><circle cx="1280.8" cy="893.9" r="19.6"/><circle cx="1320.7" cy="695.0" r="19.6"/><circle cx="1231.6" cy="831.0" r="19.6"/>
<circle cx="1251.3" cy="999.9" r="19.6"/><circle cx="1314.1" cy="701.0" r="19.6"/><circle cx="1362.3" cy="758.9" r="19.6"/><circle cx="1241.2" cy="1072.2" r="19.6"/><circle cx="1297.4" cy="1014.4" r="19.6"/><circle cx="1404.1" cy="753.7" r="19.6"/>
<circle cx="1250.6" cy="964.9" r="19.6"/><circle cx="1204.3" cy="1106.8" r="19.6"/><circle cx="1243.2" cy="702.3" r="19.6"/><circle cx="1294.0" cy="1023.9" r="19.6"/><circle cx="1315.4" cy="901.3" r="19.6"/><circle cx="1229.7" cy="1076.2" r="19.6"/>
<circle cx="1316.6" cy="1004.7" r="19.6"/><circle cx="1359.6" cy="716.4" r="19.6"/><circle cx="1202.9" cy="1029.0" r="19.6"/><circle cx="1339.8" cy="1024.9" r="19.6"/><circle cx="1246.9" cy="897.8" r="19.6"/><circle cx="1397.8" cy="771.9" r="19.6"/>
<circle cx="1174.1" cy="747.8" r="19.6"/><circle cx="1369.2" cy="1067.3" r="19.6"/><circle cx="1188.6" cy="858.6" r="19.6"/><circle cx="1216.2" cy="1122.6" r="19.6"/><circle cx="1252.9" cy="711.9" r="19.6"/><circle cx="1192.6" cy="836.1" r="19.6"/>
<circle cx="1261.3" cy="1004.0" r="19.6"/><circle cx="1392.6" cy="768.5" r="19.6"/><circle cx="1159.3" cy="972.7" r="19.6"/><circle cx="1329.8" cy="997.4" r="19.6"/><circle cx="1146.4" cy="701.8" r="19.6"/><circle cx="1407.1" cy="768.9" r="19.6"/>
<circle cx="1217.3" cy="799.5" r="19.6"/><circle cx="1214.6" cy="1051.2" r="19.6"/><circle cx="1229.2" cy="1113.1" r="19.6"/><circle cx="1101.3" cy="730.1" r="19.6"/><circle cx="1256.0" cy="1063.6" r="19.6"/><circle cx="1275.7" cy="728.1" r="19.6"/>
<circle cx="1157.9" cy="941.9" r="19.6"/><circle cx="1289.3" cy="956.7" r="19.6"/><circle cx="1181.4" cy="930.1" r="19.6"/><circle cx="1276.9" cy="704.0" r="19.6"/><circle cx="1311.7" cy="894.8" r="19.6"/><circle cx="1120.0" cy="773.7" r="19.6"/>
<circle cx="1298.9" cy="865.4" r="19.6"/><circle cx="1281.6" cy="754.0" r="19.6"/><circle cx="1151.0" cy="705.3" r="19.6"/><circle cx="1221.2" cy="921.8" r="19.6"/><circle cx="1243.6" cy="1070.6" r="19.6"/><circle cx="1307.1" cy="831.4" r="19.6"/>
<circle cx="1180.7" cy="739.8" r="19.6"/><circle cx="1229.3" cy="852.7" r="19.6"/><circle cx="1262.4" cy="812.5" r="19.6"/><circle cx="1163.2" cy="978.6" r="19.6"/><circle cx="1101.0" cy="780.3" r="19.6"/><circle cx="1221.6" cy="985.5" r="19.6"/>
<circle cx="1092.6" cy="863.6" r="19.6"/><circle cx="1190.6" cy="861.4" r="19.6"/><circle cx="1263.1" cy="785.0" r="19.6"/><circle cx="1215.1" cy="1063.5" r="19.6"/><circle cx="1275.9" cy="671.5" r="19.6"/><circle cx="1150.6" cy="773.1" r="19.6"/>
<circle cx="1313.5" cy="1001.9" r="19.6"/><circle cx="1278.4" cy="673.3" r="19.6"/><circle cx="1277.0" cy="734.9" r="19.6"/><circle cx="1111.1" cy="889.4" r="19.6"/><circle cx="1236.4" cy="788.6" r="19.6"/><circle cx="1311.6" cy="1016.9" r="19.6"/>
<circle cx="1195.9" cy="842.6" r="19.6"/><circle cx="1173.8" cy="714.8" r="19.6"/><circle cx="1290.7" cy="1083.4" r="19.6"/><circle cx="1152.2" cy="758.1" r="19.6"/><circle cx="1139.5" cy="873.7" r="19.6"/><circle cx="1238.0" cy="794.4" r="19.6"/>
<circle cx="1275.5" cy="1019.1" r="19.6"/><circle cx="1287.2" cy="852.2" r="19.6"/><circle cx="1063.8" cy="770.3" r="19.6"/><circle cx="1298.6" cy="694.2" r="19.6"/><circle cx="1289.0" cy="801.2" r="19.6"/><circle cx="1143.8" cy="875.9" r="19.6"/>
<circle cx="1303.2" cy="1006.3" r="19.6"/><circle cx="1185.8" cy="963.4" r="19.6"/><circle cx="1189.0" cy="853.4" r="19.6"/><circle cx="1101.6" cy="852.7" r="19.6"/><circle cx="1173.9" cy="803.8" r="19.6"/><circle cx="1260.5" cy="905.9" r="19.6"/>
<circle cx="1199.8" cy="768.5" r="19.6"/><circle cx="1180.3" cy="855.9" r="19.6"/><circle cx="1104.3" cy="769.4" r="19.6"/><circle cx="1138.0" cy="871.4" r="19.6"/><circle cx="1228.8" cy="1025.9" r="19.6"/><circle cx="1199.1" cy="990.2" r="19.6"/>
<circle cx="1198.6" cy="767.4" r="19.6"/><circle cx="1210.4" cy="1073.8" r="19.6"/><circle cx="1262.7" cy="708.2" r="19.6"/><circle cx="1313.5" cy="993.5" r="19.6"/><circle cx="1140.6" cy="780.5" r="19.6"/><circle cx="1151.8" cy="675.0" r="19.6"/>
<circle cx="1184.3" cy="933.8" r="19.6"/><circle cx="1189.0" cy="1086.3" r="19.6"/><circle cx="1298.0" cy="814.0" r="19.6"/><circle cx="1114.7" cy="756.7" r="19.6"/><circle cx="1169.9" cy="861.5" r="19.6"/><circle cx="1276.8" cy="1000.3" r="19.6"/>
<circle cx="1294.7" cy="1039.7" r="19.6"/><circle cx="1175.0" cy="834.1" r="19.6"/><circle cx="1169.0" cy="918.1" r="19.6"/><circle cx="1199.4" cy="939.2" r="19.6"/><circle cx="1222.5" cy="758.6" r="19.6"/><circle cx="1225.1" cy="945.8" r="19.6"/>
<circle cx="1256.6" cy="882.7" r="19.6"/><circle cx="1097.3" cy="835.0" r="19.6"/><circle cx="1137.9" cy="756.6" r="19.6"/><circle cx="1330.4" cy="1003.4" r="19.6"/><circle cx="1137.2" cy="812.4" r="19.6"/><circle cx="1203.3" cy="862.1" r="19.6"/>
<circle cx="1229.1" cy="848.3" r="19.6"/><circle cx="1233.2" cy="925.4" r="19.6"/><circle cx="1168.6" cy="1015.9" r="19.6"/><circle cx="1132.3" cy="841.6" r="19.6"/><circle cx="1301.7" cy="1010.4" r="19.6"/><circle cx="1115.8" cy="826.9" r="19.6"/>
<circle cx="1210.3" cy="743.2" r="19.6"/><circle cx="1275.4" cy="964.3" r="19.6"/><circle cx="1164.4" cy="825.2" r="19.6"/><circle cx="1111.8" cy="759.8" r="19.6"/><circle cx="1225.8" cy="927.4" r="19.6"/><circle cx="1305.4" cy="1050.4" r="19.6"/>
<circle cx="1272.5" cy="944.5" r="19.6"/><circle cx="1126.3" cy="878.3" r="19.6"/><circle cx="1321.3" cy="1042.0" r="19.6"/><circle cx="1304.1" cy="788.9" r="19.6"/><circle cx="1231.4" cy="944.0" r="19.6"/><circle cx="1302.9" cy="1052.8" r="19.6"/>
<circle cx="1314.0" cy="878.1" r="19.6"/><circle cx="1188.1" cy="903.8" r="19.6"/><circle cx="1170.1" cy="1038.6" r="19.6"/><circle cx="1117.9" cy="856.5" r="19.6"/><circle cx="1107.9" cy="814.3" r="19.6"/><circle cx="1152.9" cy="712.7" r="19.6"/>
<circle cx="1290.9" cy="813.0" r="19.6"/><circle cx="1114.5" cy="902.7" r="19.6"/><circle cx="1101.4" cy="841.7" r="19.6"/><circle cx="1202.4" cy="900.3" r="19.6"/><circle cx="1207.9" cy="1079.7" r="19.6"/><circle cx="1230.5" cy="1098.0" r="19.6"/>
<circle cx="1247.3" cy="1014.2" r="19.6"/><circle cx="1229.4" cy="1087.3" r="19.6"/><circle cx="1207.2" cy="1085.7" r="19.6"/><circle cx="1163.7" cy="738.7" r="19.6"/><circle cx="1141.7" cy="758.9" r="19.6"/><circle cx="1218.0" cy="931.7" r="19.6"/>
<circle cx="1223.3" cy="1001.2" r="19.6"/><circle cx="1188.4" cy="907.4" r="19.6"/><circle cx="1194.1" cy="745.2" r="19.6"/><circle cx="1187.1" cy="749.7" r="19.6"/><circle cx="1183.8" cy="940.8" r="19.6"/><circle cx="1327.8" cy="1030.5" r="19.6"/>
<circle cx="1175.9" cy="947.6" r="19.6"/><circle cx="1186.4" cy="949.8" r="19.6"/><circle cx="1163.0" cy="855.7" r="19.6"/><circle cx="1098.2" cy="801.2" r="19.6"/><circle cx="1240.8" cy="1044.6" r="19.6"/><circle cx="1249.8" cy="772.9" r="19.6"/>
<circle cx="1248.0" cy="955.3" r="19.6"/><circle cx="1247.3" cy="686.5" r="19.6"/><circle cx="1218.0" cy="840.9" r="19.6"/><circle cx="1211.4" cy="1005.7" r="19.6"/><circle cx="1202.6" cy="1093.9" r="19.6"/><circle cx="1105.3" cy="899.5" r="19.6"/>
<circle cx="1264.0" cy="749.6" r="19.6"/><circle cx="1099.1" cy="901.2" r="19.6"/><circle cx="1215.4" cy="1085.1" r="19.6"/><circle cx="1246.7" cy="779.6" r="19.6"/><circle cx="1104.8" cy="816.6" r="19.6"/><circle cx="1151.5" cy="955.0" r="19.6"/>
<circle cx="1268.4" cy="740.9" r="19.6"/><circle cx="1185.1" cy="1079.4" r="19.6"/><circle cx="1251.0" cy="1079.5" r="19.6"/><circle cx="1308.7" cy="918.9" r="19.6"/><circle cx="1137.9" cy="818.9" r="19.6"/><circle cx="1212.7" cy="1100.4" r="19.6"/>
<circle cx="1132.8" cy="780.9" r="19.6"/><circle cx="1295.9" cy="866.5" r="19.6"/><circle cx="1240.4" cy="708.9" r="19.6"/><circle cx="1149.3" cy="917.3" r="19.6"/><circle cx="1060.6" cy="800.8" r="19.6"/><circle cx="1297.8" cy="715.4" r="19.6"/>
<circle cx="1289.3" cy="971.7" r="19.6"/><circle cx="1124.6" cy="752.4" r="19.6"/><circle cx="1254.5" cy="938.4" r="19.6"/><circle cx="1217.9" cy="1112.2" r="19.6"/><circle cx="1158.3" cy="879.7" r="19.6"/><circle cx="1302.8" cy="814.6" r="19.6"/>
<circle cx="1282.6" cy="1041.2" r="19.6"/><circle cx="1250.8" cy="955.4" r="19.6"/><circle cx="1313.7" cy="750.2" r="19.6"/><circle cx="1245.8" cy="1133.7" r="19.6"/><circle cx="1102.8" cy="813.4" r="19.6"/><circle cx="1173.4" cy="746.4" r="19.6"/>
<circle cx="1207.8" cy="862.5" r="19.6"/><circle cx="1177.5" cy="1002.7" r="19.6"/><circle cx="1264.3" cy="858.5" r="19.6"/><circle cx="1087.1" cy="822.1" r="19.6"/><circle cx="1145.6" cy="752.7" r="19.6"/><circle cx="1230.0" cy="1124.9" r="19.6"/>
<circle cx="1190.9" cy="795.2" r="19.6"/><circle cx="1229.8" cy="1005.7" r="19.6"/><circle cx="1238.0" cy="975.3" r="19.6"/><circle cx="1149.9" cy="732.8" r="19.6"/><circle cx="1262.3" cy="1025.3" r="19.6"/><circle cx="1137.7" cy="862.3" r="19.6"/>
<circle cx="1308.4" cy="746.9" r="19.6"/><circle cx="1262.2" cy="772.9" r="19.6"/><circle cx="1094.3" cy="907.7" r="19.6"/><circle cx="1119.8" cy="940.1" r="19.6"/><circle cx="1183.3" cy="793.7" r="19.6"/><circle cx="1298.1" cy="793.8" r="19.6"/>
<circle cx="1314.3" cy="755.1" r="19.6"/><circle cx="1252.1" cy="1006.4" r="19.6"/><circle cx="1232.7" cy="789.4" r="19.6"/><circle cx="1279.8" cy="938.5" r="19.6"/><circle cx="1247.5" cy="786.2" r="19.6"/><circle cx="1159.8" cy="987.1" r="19.6"/>
<circle cx="1245.9" cy="874.0" r="19.6"/><circle cx="1253.6" cy="696.2" r="19.6"/><circle cx="1124.3" cy="712.9" r="19.6"/><circle cx="1259.8" cy="1012.4" r="19.6"/><circle cx="1265.4" cy="968.4" r="19.6"/><circle cx="1156.0" cy="909.5" r="19.6"/>
<circle cx="1182.7" cy="735.9" r="19.6"/><circle cx="1296.5" cy="731.1" r="19.6"/><circle cx="1312.1" cy="713.4" r="19.6"/><circle cx="1283.7" cy="782.3" r="19.6"/><circle cx="1155.8" cy="744.6" r="19.6"/><circle cx="1219.9" cy="900.3" r="19.6"/>
<circle cx="1222.8" cy="719.4" r="19.6"/><circle cx="1223.9" cy="1008.0" r="19.6"/><circle cx="1134.6" cy="959.8" r="19.6"/><circle cx="1194.2" cy="839.7" r="19.6"/><circle cx="1295.9" cy="840.0" r="19.6"/><circle cx="1155.7" cy="883.2" r="19.6"/>
<circle cx="1233.4" cy="736.1" r="19.6"/><circle cx="1153.6" cy="989.8" r="19.6"/><circle cx="1333.2" cy="1041.3" r="19.6"/><circle cx="1157.9" cy="899.4" r="19.6"/><circle cx="1284.6" cy="950.1" r="19.6"/><circle cx="1106.6" cy="730.7" r="19.6"/>
<circle cx="1218.7" cy="896.3" r="19.6"/><circle cx="1221.0" cy="745.4" r="19.6"/><circle cx="1214.0" cy="764.2" r="19.6"/><circle cx="1287.1" cy="1054.1" r="19.6"/><circle cx="1249.9" cy="700.4" r="19.6"/><circle cx="1198.0" cy="1007.5" r="19.6"/>
<circle cx="1340.3" cy="1008.6" r="19.6"/><circle cx="1275.2" cy="781.7" r="19.6"/><circle cx="1182.6" cy="786.3" r="19.6"/><circle cx="1169.0" cy="886.5" r="19.6"/><circle cx="1239.7" cy="757.3" r="19.6"/><circle cx="1076.5" cy="806.8" r="19.6"/>
<circle cx="1219.4" cy="1083.4" r="19.6"/><circle cx="1282.0" cy="913.3" r="19.6"/><circle cx="1162.7" cy="740.3" r="19.6"/><circle cx="1237.8" cy="794.6" r="19.6"/><circle cx="1192.5" cy="783.5" r="19.6"/><circle cx="1309.7" cy="699.7" r="19.6"/>
<circle cx="1200.8" cy="888.7" r="19.6"/><circle cx="1253.7" cy="762.7" r="19.6"/><circle cx="1230.8" cy="785.4" r="19.6"/><circle cx="1174.8" cy="774.6" r="19.6"/><circle cx="1300.1" cy="913.5" r="19.6"/><circle cx="1307.6" cy="717.6" r="19.6"/>
<circle cx="1305.6" cy="987.7" r="19.6"/><circle cx="1277.7" cy="1020.6" r="19.6"/><circle cx="1303.5" cy="1002.0" r="19.6"/><circle cx="1280.3" cy="962.8" r="19.6"/><circle cx="1302.1" cy="898.3" r="19.6"/><circle cx="1231.9" cy="1010.0" r="19.6"/>
<circle cx="1294.3" cy="804.6" r="19.6"/><circle cx="1177.2" cy="1035.9" r="19.6"/><circle cx="1259.2" cy="694.0" r="19.6"/><circle cx="1174.0" cy="775.7" r="19.6"/><circle cx="1188.8" cy="854.6" r="19.6"/><circle cx="1164.4" cy="1040.6" r="19.6"/>
<circle cx="1197.3" cy="969.3" r="19.6"/><circle cx="1117.6" cy="814.4" r="19.6"/><circle cx="1194.7" cy="955.6" r="19.6"/><circle cx="1182.7" cy="1040.2" r="19.6"/><circle cx="1164.4" cy="780.5" r="19.6"/><circle cx="1146.2" cy="894.6" r="19.6"/>
<circle cx="1307.9" cy="1022.5" r="19.6"/><circle cx="1209.2" cy="1083.9" r="19.6"/><circle cx="1256.0" cy="959.1" r="19.6"/><circle cx="1306.4" cy="868.5" r="19.6"/><circle cx="1181.9" cy="1050.5" r="19.6"/><circle cx="1185.1" cy="761.3" r="19.6"/>
<circle cx="1240.2" cy="710.8" r="19.6"/><circle cx="1214.7" cy="723.8" r="19.6"/><circle cx="1080.8" cy="837.3" r="19.6"/><circle cx="1208.1" cy="934.1" r="19.6"/><circle cx="1311.5" cy="941.8" r="19.6"/><circle cx="1225.9" cy="1016.4" r="19.6"/>
<circle cx="1150.1" cy="939.4" r="19.6"/><circle cx="1156.3" cy="675.1" r="19.6"/><circle cx="1158.4" cy="830.1" r="19.6"/><circle cx="1240.3" cy="899.2" r="19.6"/><circle cx="1259.8" cy="837.8" r="19.6"/><circle cx="1267.4" cy="973.8" r="19.6"/>
<circle cx="1285.1" cy="810.5" r="19.6"/><circle cx="1150.8" cy="907.7" r="19.6"/><circle cx="1274.9" cy="802.0" r="19.6"/><circle cx="1175.6" cy="1027.2" r="19.6"/><circle cx="1166.5" cy="826.3" r="19.6"/><circle cx="1276.9" cy="907.1" r="19.6"/>
<circle cx="1305.0" cy="876.4" r="19.6"/><circle cx="1101.0" cy="853.5" r="19.6"/><circle cx="1218.8" cy="1009.3" r="19.6"/><circle cx="1099.5" cy="856.0" r="19.6"/><circle cx="1116.3" cy="745.5" r="19.6"/><circle cx="1168.9" cy="687.1" r="19.6"/>
<circle cx="1288.6" cy="1015.8" r="19.6"/><circle cx="1228.9" cy="930.7" r="19.6"/><circle cx="1263.7" cy="750.0" r="19.6"/><circle cx="1158.1" cy="855.5" r="19.6"/><circle cx="1219.8" cy="739.9" r="19.6"/><circle cx="1313.0" cy="706.8" r="19.6"/>
<circle cx="1167.9" cy="762.0" r="19.6"/><circle cx="1282.3" cy="755.4" r="19.6"/><circle cx="1164.8" cy="1025.1" r="19.6"/><circle cx="1267.7" cy="1083.8" r="19.6"/><circle cx="1210.5" cy="1060.4" r="19.6"/><circle cx="1138.6" cy="720.1" r="19.6"/>
<circle cx="1245.5" cy="1106.2" r="19.6"/><circle cx="1147.7" cy="934.2" r="19.6"/><circle cx="1239.4" cy="1043.2" r="19.6"/><circle cx="1147.8" cy="672.4" r="19.6"/><circle cx="1157.1" cy="865.8" r="19.6"/><circle cx="1234.7" cy="752.4" r="19.6"/>
<circle cx="1220.3" cy="872.6" r="19.6"/><circle cx="1287.4" cy="709.2" r="19.6"/><circle cx="1258.9" cy="1067.9" r="19.6"/><circle cx="1173.5" cy="859.6" r="19.6"/><circle cx="1244.8" cy="904.6" r="19.6"/><circle cx="1204.6" cy="973.1" r="19.6"/>
<circle cx="1227.8" cy="988.1" r="19.6"/><circle cx="1188.3" cy="788.3" r="19.6"/><circle cx="1271.7" cy="705.9" r="19.6"/><circle cx="1196.8" cy="1105.3" r="19.6"/><circle cx="1245.5" cy="732.0" r="19.6"/><circle cx="1212.9" cy="1003.8" r="19.6"/>
<circle cx="1205.4" cy="1062.8" r="19.6"/><circle cx="1231.1" cy="942.3" r="19.6"/><circle cx="1245.3" cy="1084.6" r="19.6"/><circle cx="1213.4" cy="1058.2" r="19.6"/><circle cx="1162.5" cy="868.9" r="19.6"/><circle cx="1247.9" cy="1105.2" r="19.6"/>
<circle cx="1140.5" cy="822.2" r="19.6"/><circle cx="1196.7" cy="1063.6" r="19.6"/><circle cx="1260.8" cy="1082.3" r="19.6"/><circle cx="1294.1" cy="1048.7" r="19.6"/><circle cx="1274.2" cy="877.3" r="19.6"/><circle cx="1286.1" cy="1003.3" r="19.6"/>
<circle cx="1185.6" cy="928.7" r="19.6"/><circle cx="1310.9" cy="771.9" r="19.6"/><circle cx="1184.4" cy="1023.0" r="19.6"/><circle cx="1201.2" cy="1125.4" r="19.6"/><circle cx="1182.3" cy="849.5" r="19.6"/><circle cx="1147.8" cy="764.0" r="19.6"/>
<circle cx="1243.2" cy="742.5" r="19.6"/><circle cx="1150.2" cy="907.4" r="19.6"/><circle cx="1309.2" cy="769.8" r="19.6"/><circle cx="1267.7" cy="848.1" r="19.6"/><circle cx="1080.3" cy="818.9" r="19.6"/><circle cx="1112.5" cy="702.0" r="19.6"/>
<circle cx="1153.5" cy="852.3" r="19.6"/><circle cx="1134.5" cy="780.3" r="19.6"/><circle cx="1119.9" cy="752.7" r="19.6"/><circle cx="1269.3" cy="937.5" r="19.6"/><circle cx="1106.7" cy="870.4" r="19.6"/><circle cx="1172.5" cy="899.4" r="19.6"/>
<circle cx="1279.4" cy="1069.8" r="19.6"/><circle cx="1298.8" cy="906.3" r="19.6"/><circle cx="1307.4" cy="737.0" r="19.6"/><circle cx="1202.1" cy="895.5" r="19.6"/><circle cx="1192.5" cy="942.8" r="19.6"/><circle cx="1176.5" cy="1064.5" r="19.6"/>
<circle cx="1209.2" cy="928.3" r="19.6"/><circle cx="1187.1" cy="1050.9" r="19.6"/><circle cx="1210.3" cy="831.1" r="19.6"/><circle cx="1237.2" cy="729.5" r="19.6"/><circle cx="1220.9" cy="1035.4" r="19.6"/><circle cx="1264.0" cy="823.5" r="19.6"/>
<circle cx="1265.8" cy="984.6" r="19.6"/><circle cx="1294.6" cy="800.2" r="19.6"/><circle cx="1185.5" cy="868.5" r="19.6"/><circle cx="1193.1" cy="830.7" r="19.6"/><circle cx="1076.2" cy="769.0" r="19.6"/><circle cx="1180.6" cy="778.1" r="19.6"/>
<circle cx="1224.2" cy="835.9" r="19.6"/><circle cx="1246.6" cy="767.4" r="19.6"/><circle cx="1227.3" cy="944.1" r="19.6"/><circle cx="1334.9" cy="1029.5" r="19.6"/><circle cx="1316.3" cy="920.2" r="19.6"/><circle cx="1203.2" cy="881.4" r="19.6"/>
<circle cx="1200.6" cy="894.6" r="19.6"/><circle cx="1213.4" cy="815.9" r="19.6"/><circle cx="1156.0" cy="876.0" r="19.6"/><circle cx="1106.0" cy="808.5" r="19.6"/><circle cx="1234.3" cy="998.5" r="19.6"/><circle cx="1235.1" cy="793.3" r="19.6"/>
<circle cx="1257.3" cy="896.9" r="19.6"/><circle cx="1193.6" cy="1106.6" r="19.6"/><circle cx="1260.2" cy="995.8" r="19.6"/><circle cx="1160.6" cy="815.9" r="19.6"/><circle cx="1261.0" cy="937.9" r="19.6"/><circle cx="1262.9" cy="677.8" r="19.6"/>
<circle cx="1259.8" cy="809.5" r="19.6"/><circle cx="1240.0" cy="841.1" r="19.6"/><circle cx="1300.0" cy="684.3" r="19.6"/><circle cx="1198.0" cy="1095.6" r="19.6"/><circle cx="1293.7" cy="745.1" r="19.6"/><circle cx="1230.3" cy="1087.7" r="19.6"/>
<circle cx="1298.1" cy="677.4" r="19.6"/><circle cx="1242.0" cy="1042.6" r="19.6"/><circle cx="1224.9" cy="1040.9" r="19.6"/><circle cx="1263.4" cy="919.2" r="19.6"/><circle cx="1312.7" cy="996.5" r="19.6"/><circle cx="1131.4" cy="939.6" r="19.6"/>
<circle cx="1124.5" cy="834.9" r="19.6"/><circle cx="1232.6" cy="764.4" r="19.6"/><circle cx="1195.0" cy="756.4" r="19.6"/><circle cx="1276.1" cy="890.7" r="19.6"/><circle cx="1214.6" cy="853.8" r="19.6"/><circle cx="1191.6" cy="1129.9" r="19.6"/>
<circle cx="1098.9" cy="790.5" r="19.6"/><circle cx="1243.3" cy="801.5" r="19.6"/><circle cx="1211.2" cy="1058.9" r="19.6"/><circle cx="1161.4" cy="1033.1" r="19.6"/><circle cx="1280.4" cy="924.0" r="19.6"/><circle cx="1252.0" cy="1125.2" r="19.6"/>
<circle cx="1314.9" cy="977.1" r="19.6"/><circle cx="1183.2" cy="869.5" r="19.6"/><circle cx="1130.7" cy="673.6" r="19.6"/><circle cx="1148.1" cy="846.1" r="19.6"/><circle cx="1316.6" cy="834.2" r="19.6"/><circle cx="1213.9" cy="1097.7" r="19.6"/>
<circle cx="1151.1" cy="797.2" r="19.6"/><circle cx="1283.3" cy="1022.3" r="19.6"/><circle cx="1313.9" cy="942.9" r="19.6"/><circle cx="1282.3" cy="872.8" r="19.6"/><circle cx="1250.2" cy="751.6" r="19.6"/><circle cx="1216.6" cy="1063.2" r="19.6"/>
<circle cx="1272.2" cy="914.9" r="19.6"/><circle cx="1217.9" cy="786.6" r="19.6"/><circle cx="1260.0" cy="988.9" r="19.6"/><circle cx="1182.0" cy="1058.0" r="19.6"/><circle cx="1213.7" cy="774.5" r="19.6"/><circle cx="1255.4" cy="682.2" r="19.6"/>
<circle cx="1277.3" cy="805.9" r="19.6"/><circle cx="1149.8" cy="946.6" r="19.6"/><circle cx="1185.8" cy="905.8" r="19.6"/><circle cx="1113.3" cy="707.4" r="19.6"/><circle cx="1163.5" cy="925.0" r="19.6"/><circle cx="1299.9" cy="818.4" r="19.6"/>
<circle cx="1256.8" cy="811.6" r="19.6"/><circle cx="1154.0" cy="818.5" r="19.6"/><circle cx="1214.9" cy="1093.9" r="19.6"/><circle cx="1179.7" cy="957.7" r="19.6"/><circle cx="1219.5" cy="930.4" r="19.6"/><circle cx="1276.6" cy="979.0" r="19.6"/>
<circle cx="1219.4" cy="771.4" r="19.6"/><circle cx="1122.7" cy="832.9" r="19.6"/><circle cx="1277.5" cy="941.5" r="19.6"/><circle cx="1170.9" cy="759.8" r="19.6"/><circle cx="1243.9" cy="1038.8" r="19.6"/><circle cx="1085.5" cy="856.5" r="19.6"/>
<circle cx="1175.9" cy="911.1" r="19.6"/><circle cx="1277.7" cy="958.5" r="19.6"/><circle cx="1214.1" cy="1078.9" r="19.6"/><circle cx="1309.2" cy="979.4" r="19.6"/><circle cx="1190.5" cy="722.5" r="19.6"/><circle cx="1166.6" cy="1041.2" r="19.6"/>
<circle cx="1175.8" cy="761.9" r="19.6"/><circle cx="1201.0" cy="1104.8" r="19.6"/><circle cx="1172.9" cy="832.0" r="19.6"/><circle cx="1138.1" cy="784.8" r="19.6"/><circle cx="1267.9" cy="925.5" r="19.6"/><circle cx="1211.3" cy="1132.8" r="19.6"/>
<circle cx="1062.6" cy="749.7" r="19.6"/><circle cx="1100.6" cy="749.0" r="19.6"/><circle cx="1200.8" cy="963.5" r="19.6"/><circle cx="1303.5" cy="966.4" r="19.6"/><circle cx="1153.6" cy="913.1" r="19.6"/><circle cx="1127.2" cy="748.1" r="19.6"/>
<circle cx="1235.0" cy="971.0" r="19.6"/><circle cx="1226.2" cy="787.9" r="19.6"/><circle cx="1180.3" cy="1001.9" r="19.6"/><circle cx="1252.1" cy="759.5" r="19.6"/><circle cx="1212.9" cy="1029.8" r="19.6"/><circle cx="1225.6" cy="733.3" r="19.6"/>
<circle cx="1209.9" cy="1134.3" r="19.6"/><circle cx="1145.6" cy="769.1" r="19.6"/><circle cx="1120.2" cy="943.5" r="19.6"/><circle cx="1278.7" cy="827.1" r="19.6"/><circle cx="1197.9" cy="965.3" r="19.6"/><circle cx="1217.7" cy="1030.3" r="19.6"/>
<circle cx="1164.7" cy="757.7" r="19.6"/><circle cx="1249.4" cy="954.6" r="19.6"/><circle cx="1093.7" cy="807.5" r="19.6"/><circle cx="1177.3" cy="1032.6" r="19.6"/><circle cx="1272.2" cy="918.3" r="19.6"/><circle cx="1285.7" cy="859.3" r="19.6"/>
<circle cx="1153.8" cy="883.0" r="19.6"/><circle cx="1318.4" cy="1027.7" r="19.6"/><circle cx="1198.7" cy="850.2" r="19.6"/><circle cx="1181.8" cy="810.1" r="19.6"/><circle cx="1123.5" cy="751.8" r="19.6"/><circle cx="1115.1" cy="757.4" r="19.6"/>
<circle cx="1146.3" cy="829.3" r="19.6"/><circle cx="1131.7" cy="834.7" r="19.6"/><circle cx="1296.3" cy="826.6" r="19.6"/><circle cx="1284.8" cy="905.0" r="19.6"/><circle cx="1188.2" cy="998.0" r="19.6"/><circle cx="1129.5" cy="812.7" r="19.6"/>
<circle cx="1219.1" cy="988.9" r="19.6"/><circle cx="1172.8" cy="1005.7" r="19.6"/><circle cx="1256.8" cy="986.1" r="19.6"/><circle cx="1123.4" cy="742.0" r="19.6"/><circle cx="1206.8" cy="761.7" r="19.6"/><circle cx="1248.0" cy="1044.3" r="19.6"/>
<circle cx="1261.8" cy="784.7" r="19.6"/><circle cx="1213.1" cy="1124.7" r="19.6"/><circle cx="1251.8" cy="864.6" r="19.6"/><circle cx="1247.7" cy="894.8" r="19.6"/><circle cx="1108.8" cy="870.0" r="19.6"/><circle cx="1199.6" cy="1078.6" r="19.6"/>
<circle cx="1136.4" cy="947.4" r="19.6"/><circle cx="1258.6" cy="1047.7" r="19.6"/><circle cx="1302.4" cy="984.8" r="19.6"/><circle cx="1278.0" cy="710.0" r="19.6"/><circle cx="1153.0" cy="541.5" r="19.6"/><circle cx="1124.2" cy="580.9" r="19.6"/>
<circle cx="1142.9" cy="568.0" r="19.6"/><circle cx="1103.7" cy="671.4" r="19.6"/><circle cx="1129.2" cy="617.4" r="19.6"/><circle cx="1126.2" cy="670.1" r="19.6"/><circle cx="1150.0" cy="662.2" r="19.6"/><circle cx="1147.0" cy="639.2" r="19.6"/>
<circle cx="1108.4" cy="649.8" r="19.6"/><circle cx="1167.4" cy="641.8" r="19.6"/><circle cx="1152.4" cy="587.0" r="19.6"/><circle cx="1148.0" cy="582.5" r="19.6"/><circle cx="1105.3" cy="559.7" r="19.6"/><circle cx="1147.1" cy="533.2" r="19.6"/>
<circle cx="1100.9" cy="541.9" r="19.6"/><circle cx="1138.6" cy="614.4" r="19.6"/><circle cx="1161.1" cy="679.8" r="19.6"/><circle cx="1126.9" cy="611.3" r="19.6"/><circle cx="1176.7" cy="636.2" r="19.6"/><circle cx="1197.2" cy="643.7" r="19.6"/>
<circle cx="1203.8" cy="655.7" r="19.6"/><circle cx="1126.6" cy="601.1" r="19.6"/><circle cx="1178.1" cy="626.4" r="19.6"/><circle cx="1131.0" cy="631.1" r="19.6"/><circle cx="1096.6" cy="656.4" r="19.6"/><circle cx="1098.6" cy="614.7" r="19.6"/>
<circle cx="1150.7" cy="620.4" r="19.6"/><circle cx="1153.5" cy="593.4" r="19.6"/><circle cx="1164.1" cy="557.6" r="19.6"/><circle cx="1172.4" cy="612.6" r="19.6"/><circle cx="1111.6" cy="596.0" r="19.6"/><circle cx="1107.8" cy="626.2" r="19.6"/>
<circle cx="1137.0" cy="526.4" r="19.6"/><circle cx="1185.0" cy="633.2" r="19.6"/><circle cx="1170.9" cy="648.9" r="19.6"/><circle cx="1113.4" cy="536.3" r="19.6"/><circle cx="1183.7" cy="614.3" r="19.6"/><circle cx="1117.1" cy="543.1" r="19.6"/>
<circle cx="1168.0" cy="631.7" r="19.6"/><circle cx="1168.2" cy="580.7" r="19.6"/><circle cx="1175.6" cy="591.7" r="19.6"/><circle cx="1123.9" cy="532.5" r="19.6"/><circle cx="1092.9" cy="595.9" r="19.6"/><circle cx="1151.8" cy="565.1" r="19.6"/>
<circle cx="1114.0" cy="644.2" r="19.6"/><circle cx="1164.8" cy="625.6" r="19.6"/><circle cx="1140.2" cy="679.3" r="19.6"/><circle cx="1130.7" cy="597.1" r="19.6"/><circle cx="1141.4" cy="577.0" r="19.6"/><circle cx="1157.2" cy="604.1" r="19.6"/>
<circle cx="1161.3" cy="618.3" r="19.6"/><circle cx="1162.5" cy="607.1" r="19.6"/><circle cx="1126.4" cy="572.9" r="19.6"/><circle cx="1149.3" cy="573.9" r="19.6"/><circle cx="1114.6" cy="558.6" r="19.6"/><circle cx="1107.3" cy="548.1" r="19.6"/>
<circle cx="1183.6" cy="530.3" r="19.6"/><circle cx="1205.2" cy="511.2" r="19.6"/><circle cx="1200.7" cy="536.8" r="19.6"/><circle cx="1303.7" cy="614.3" r="19.6"/><circle cx="1262.7" cy="656.8" r="19.6"/><circle cx="1269.9" cy="536.7" r="19.6"/>
<circle cx="1184.8" cy="500.7" r="19.6"/><circle cx="1309.4" cy="657.9" r="19.6"/><circle cx="1202.9" cy="489.3" r="19.6"/><circle cx="1260.2" cy="594.9" r="19.6"/><circle cx="1368.0" cy="643.0" r="19.6"/><circle cx="1318.9" cy="678.1" r="19.6"/>
<circle cx="1370.8" cy="637.3" r="19.6"/><circle cx="1419.9" cy="668.0" r="19.6"/><circle cx="1250.6" cy="631.3" r="19.6"/><circle cx="1293.4" cy="646.2" r="19.6"/><circle cx="1310.9" cy="577.9" r="19.6"/><circle cx="1213.1" cy="489.4" r="19.6"/>
<circle cx="1320.2" cy="566.8" r="19.6"/><circle cx="1312.4" cy="671.4" r="19.6"/><circle cx="1206.5" cy="520.3" r="19.6"/><circle cx="1439.9" cy="725.5" r="19.6"/><circle cx="1310.6" cy="618.0" r="19.6"/><circle cx="1339.7" cy="668.9" r="19.6"/>
<circle cx="1395.7" cy="713.2" r="19.6"/><circle cx="1312.0" cy="677.3" r="19.6"/><circle cx="1233.7" cy="551.8" r="19.6"/><circle cx="1341.1" cy="612.4" r="19.6"/><circle cx="1189.6" cy="504.8" r="19.6"/><circle cx="1426.8" cy="744.6" r="19.6"/>
<circle cx="1208.4" cy="526.8" r="19.6"/><circle cx="1220.3" cy="493.7" r="19.6"/><circle cx="1222.6" cy="572.3" r="19.6"/><circle cx="1287.4" cy="633.3" r="19.6"/><circle cx="1305.1" cy="624.0" r="19.6"/><circle cx="1360.6" cy="640.7" r="19.6"/>
<circle cx="1332.0" cy="632.5" r="19.6"/><circle cx="1383.4" cy="629.1" r="19.6"/><circle cx="1261.5" cy="550.1" r="19.6"/><circle cx="1198.0" cy="506.3" r="19.6"/><circle cx="1419.3" cy="734.6" r="19.6"/><circle cx="1387.8" cy="652.3" r="19.6"/>
<circle cx="1283.4" cy="529.9" r="19.6"/><circle cx="1249.3" cy="639.3" r="19.6"/><circle cx="1286.8" cy="568.0" r="19.6"/><circle cx="1385.1" cy="690.6" r="19.6"/><circle cx="1210.1" cy="552.8" r="19.6"/><circle cx="1512.4" cy="829.3" r="19.6"/>
<circle cx="1456.1" cy="852.7" r="19.6"/><circle cx="1442.9" cy="801.3" r="19.6"/><circle cx="1460.0" cy="884.0" r="19.6"/><circle cx="1449.0" cy="967.1" r="19.6"/><circle cx="1430.1" cy="893.1" r="19.6"/><circle cx="1472.5" cy="945.8" r="19.6"/>
<circle cx="1504.0" cy="774.2" r="19.6"/><circle cx="1382.8" cy="924.3" r="19.6"/><circle cx="1412.9" cy="940.0" r="19.6"/><circle cx="1460.5" cy="836.7" r="19.6"/><circle cx="1486.6" cy="765.0" r="19.6"/><circle cx="1451.0" cy="818.4" r="19.6"/>
<circle cx="1402.8" cy="923.5" r="19.6"/><circle cx="1448.5" cy="919.3" r="19.6"/><circle cx="1416.5" cy="749.2" r="19.6"/><circle cx="1469.6" cy="746.8" r="19.6"/><circle cx="1415.6" cy="726.4" r="19.6"/><circle cx="1475.0" cy="941.0" r="19.6"/>
<circle cx="1440.6" cy="991.2" r="19.6"/><circle cx="1401.8" cy="947.1" r="19.6"/><circle cx="1484.8" cy="905.5" r="19.6"/><circle cx="1455.4" cy="830.3" r="19.6"/><circle cx="1448.4" cy="790.0" r="19.6"/><circle cx="1422.8" cy="957.3" r="19.6"/>
<circle cx="1397.2" cy="870.1" r="19.6"/><circle cx="1433.8" cy="728.3" r="19.6"/><circle cx="1387.5" cy="876.5" r="19.6"/><circle cx="1466.3" cy="787.1" r="19.6"/><circle cx="1505.6" cy="835.3" r="19.6"/><circle cx="1491.1" cy="791.4" r="19.6"/>
<circle cx="1480.7" cy="777.2" r="19.6"/><circle cx="1488.0" cy="771.9" r="19.6"/><circle cx="1383.7" cy="909.5" r="19.6"/><circle cx="1444.0" cy="818.3" r="19.6"/><circle cx="1404.4" cy="857.3" r="19.6"/><circle cx="1424.6" cy="782.5" r="19.6"/>
<circle cx="1504.8" cy="785.7" r="19.6"/><circle cx="1482.4" cy="882.1" r="19.6"/><circle cx="1391.1" cy="923.3" r="19.6"/><circle cx="1434.8" cy="935.7" r="19.6"/><circle cx="1410.2" cy="907.6" r="19.6"/><circle cx="1436.9" cy="979.8" r="19.6"/>
<circle cx="1468.8" cy="765.8" r="19.6"/><circle cx="1515.3" cy="853.5" r="19.6"/><circle cx="1435.0" cy="757.0" r="19.6"/><circle cx="1392.5" cy="942.8" r="19.6"/><circle cx="1512.7" cy="879.2" r="19.6"/><circle cx="1379.3" cy="889.7" r="19.6"/>
<circle cx="1474.9" cy="790.6" r="19.6"/><circle cx="1423.2" cy="942.6" r="19.6"/><circle cx="1424.8" cy="773.5" r="19.6"/><circle cx="1411.1" cy="954.9" r="19.6"/><circle cx="1522.9" cy="829.9" r="19.6"/><circle cx="1441.3" cy="961.6" r="19.6"/>
<circle cx="1419.5" cy="907.7" r="19.6"/><circle cx="1414.9" cy="869.8" r="19.6"/><circle cx="1472.4" cy="852.2" r="19.6"/><circle cx="1492.5" cy="798.9" r="19.6"/><circle cx="1424.8" cy="734.1" r="19.6"/><circle cx="1471.5" cy="774.7" r="19.6"/>
<circle cx="1438.0" cy="808.3" r="19.6"/><circle cx="1461.6" cy="809.9" r="19.6"/><circle cx="1422.9" cy="977.1" r="19.6"/><circle cx="1447.0" cy="881.1" r="19.6"/><circle cx="1403.1" cy="953.5" r="19.6"/><circle cx="1416.6" cy="924.2" r="19.6"/>
<circle cx="1450.8" cy="808.9" r="19.6"/><circle cx="1412.0" cy="979.0" r="19.6"/><circle cx="1443.9" cy="754.3" r="19.6"/><circle cx="1492.2" cy="826.1" r="19.6"/><circle cx="1504.3" cy="763.6" r="19.6"/><circle cx="1410.0" cy="972.8" r="19.6"/>
<circle cx="1446.2" cy="899.6" r="19.6"/><circle cx="1407.7" cy="865.2" r="19.6"/><circle cx="1441.4" cy="791.5" r="19.6"/><circle cx="1434.1" cy="965.0" r="19.6"/><circle cx="1483.9" cy="836.7" r="19.6"/><circle cx="1487.3" cy="935.8" r="19.6"/>
<circle cx="1406.2" cy="977.7" r="19.6"/><circle cx="1471.0" cy="992.8" r="19.6"/><circle cx="1414.7" cy="893.8" r="19.6"/><circle cx="1476.8" cy="873.8" r="19.6"/><circle cx="1475.7" cy="903.2" r="19.6"/><circle cx="1421.1" cy="929.0" r="19.6"/>
<circle cx="1451.4" cy="780.4" r="19.6"/><circle cx="1500.6" cy="791.2" r="19.6"/><circle cx="1468.9" cy="875.2" r="19.6"/><circle cx="1473.4" cy="968.9" r="19.6"/><circle cx="1389.0" cy="912.6" r="19.6"/><circle cx="1456.4" cy="751.5" r="19.6"/>
<circle cx="1480.7" cy="795.4" r="19.6"/><circle cx="1391.4" cy="948.4" r="19.6"/><circle cx="1387.7" cy="917.9" r="19.6"/><circle cx="1418.4" cy="949.4" r="19.6"/><circle cx="1511.1" cy="787.9" r="19.6"/><circle cx="1454.9" cy="859.1" r="19.6"/>
<circle cx="1447.2" cy="764.0" r="19.6"/><circle cx="1438.0" cy="946.8" r="19.6"/><circle cx="1490.3" cy="925.7" r="19.6"/><circle cx="1472.6" cy="867.7" r="19.6"/><circle cx="1470.4" cy="957.0" r="19.6"/><circle cx="1539.7" cy="1037.8" r="19.6"/>
<circle cx="1569.2" cy="1056.9" r="19.6"/><circle cx="1623.4" cy="1081.9" r="19.6"/><circle cx="1592.3" cy="1017.4" r="19.6"/><circle cx="1664.9" cy="1030.8" r="19.6"/><circle cx="1570.7" cy="1026.1" r="19.6"/><circle cx="1459.3" cy="1024.2" r="19.6"/>
<circle cx="1453.4" cy="1017.3" r="19.6"/><circle cx="1409.9" cy="1105.6" r="19.6"/><circle cx="1493.8" cy="1122.8" r="19.6"/><circle cx="1521.0" cy="1069.8" r="19.6"/><circle cx="1622.7" cy="1072.7" r="19.6"/><circle cx="1439.1" cy="1125.2" r="19.6"/>
<circle cx="1536.4" cy="1083.2" r="19.6"/><circle cx="1573.6" cy="1051.0" r="19.6"/><circle cx="1579.5" cy="1052.2" r="19.6"/><circle cx="1477.5" cy="1108.3" r="19.6"/><circle cx="1477.1" cy="1029.1" r="19.6"/><circle cx="1481.3" cy="1008.5" r="19.6"/>
<circle cx="1439.4" cy="1102.1" r="19.6"/><circle cx="1536.1" cy="1024.2" r="19.6"/><circle cx="1486.8" cy="1054.4" r="19.6"/><circle cx="1439.1" cy="1042.8" r="19.6"/><circle cx="1539.7" cy="1053.9" r="19.6"/><circle cx="1580.9" cy="1100.4" r="19.6"/>
<circle cx="1507.0" cy="1077.4" r="19.6"/><circle cx="1459.2" cy="1125.6" r="19.6"/><circle cx="1634.7" cy="1052.2" r="19.6"/><circle cx="1476.3" cy="1070.9" r="19.6"/><circle cx="1652.5" cy="1059.3" r="19.6"/><circle cx="1401.6" cy="1001.2" r="19.6"/>
<circle cx="1403.8" cy="1032.2" r="19.6"/><circle cx="1396.0" cy="1100.7" r="19.6"/><circle cx="1637.4" cy="1015.9" r="19.6"/><circle cx="1594.6" cy="1104.2" r="19.6"/><circle cx="1571.3" cy="1089.4" r="19.6"/><circle cx="1454.5" cy="1098.4" r="19.6"/>
<circle cx="1435.6" cy="1022.5" r="19.6"/><circle cx="1539.6" cy="1029.9" r="19.6"/><circle cx="1548.8" cy="1029.7" r="19.6"/><circle cx="1531.9" cy="1091.0" r="19.6"/><circle cx="1485.6" cy="1103.4" r="19.6"/><circle cx="1455.5" cy="1006.9" r="19.6"/>
<circle cx="1558.2" cy="998.2" r="19.6"/><circle cx="1413.9" cy="1080.0" r="19.6"/><circle cx="1570.4" cy="1016.9" r="19.6"/><circle cx="1418.8" cy="1026.2" r="19.6"/><circle cx="1570.7" cy="991.6" r="19.6"/><circle cx="1552.4" cy="1124.1" r="19.6"/>
<circle cx="1504.4" cy="1063.8" r="19.6"/><circle cx="1454.0" cy="1075.7" r="19.6"/><circle cx="1611.8" cy="1044.6" r="19.6"/><circle cx="1595.9" cy="1081.4" r="19.6"/><circle cx="1603.3" cy="1061.4" r="19.6"/><circle cx="1613.7" cy="1089.9" r="19.6"/>
<circle cx="1391.2" cy="1011.2" r="19.6"/><circle cx="1481.4" cy="1049.0" r="19.6"/><circle cx="1468.4" cy="1112.3" r="19.6"/><circle cx="1629.9" cy="1022.5" r="19.6"/><circle cx="1623.0" cy="1012.7" r="19.6"/><circle cx="1486.5" cy="1000.3" r="19.6"/>
<circle cx="1544.2" cy="1021.5" r="19.6"/><circle cx="1444.8" cy="1091.5" r="19.6"/><circle cx="1565.1" cy="1032.4" r="19.6"/><circle cx="1567.9" cy="1042.5" r="19.6"/><circle cx="1404.4" cy="1121.4" r="19.6"/><circle cx="1473.1" cy="1090.6" r="19.6"/>
<circle cx="1506.5" cy="1054.9" r="19.6"/><circle cx="1425.0" cy="1110.4" r="19.6"/><circle cx="1439.4" cy="1116.4" r="19.6"/><circle cx="1512.3" cy="1004.6" r="19.6"/><circle cx="1649.9" cy="1064.6" r="19.6"/><circle cx="1549.5" cy="1099.7" r="19.6"/>
<circle cx="1539.2" cy="985.0" r="19.6"/><circle cx="1466.1" cy="1021.8" r="19.6"/><circle cx="1415.6" cy="1104.5" r="19.6"/><circle cx="1526.2" cy="1095.3" r="19.6"/><circle cx="1471.0" cy="1073.6" r="19.6"/><circle cx="1555.4" cy="1014.1" r="19.6"/>
<circle cx="1605.1" cy="1069.7" r="19.6"/><circle cx="1477.4" cy="983.8" r="19.6"/><circle cx="1574.2" cy="1045.1" r="19.6"/><circle cx="1645.6" cy="1039.4" r="19.6"/><circle cx="1422.1" cy="1084.8" r="19.6"/><circle cx="1636.8" cy="1045.2" r="19.6"/>
<circle cx="1528.7" cy="1082.3" r="19.6"/><circle cx="1401.1" cy="1009.8" r="19.6"/><circle cx="1460.3" cy="1073.6" r="19.6"/><circle cx="1453.1" cy="1060.6" r="19.6"/><circle cx="1634.6" cy="1075.6" r="19.6"/><circle cx="1492.2" cy="1010.3" r="19.6"/>
<circle cx="1479.6" cy="1120.3" r="19.6"/><circle cx="1544.5" cy="1077.6" r="19.6"/><circle cx="1584.5" cy="1005.1" r="19.6"/><circle cx="1409.0" cy="1100.1" r="19.6"/><circle cx="1392.3" cy="1001.8" r="19.6"/><circle cx="1503.9" cy="1002.2" r="19.6"/>
<circle cx="1450.1" cy="1040.5" r="19.6"/><circle cx="1520.7" cy="1052.0" r="19.6"/><circle cx="1557.1" cy="988.8" r="19.6"/><circle cx="1326.0" cy="1110.9" r="19.6"/><circle cx="1333.0" cy="1147.3" r="19.6"/><circle cx="1382.2" cy="1161.2" r="19.6"/>
<circle cx="1334.3" cy="1093.7" r="19.6"/><circle cx="1380.0" cy="1119.8" r="19.6"/><circle cx="1358.3" cy="1185.1" r="19.6"/><circle cx="1229.7" cy="1184.0" r="19.6"/><circle cx="1276.2" cy="1158.7" r="19.6"/><circle cx="1265.5" cy="1173.9" r="19.6"/>
<circle cx="1331.4" cy="1200.1" r="19.6"/><circle cx="1319.4" cy="1202.3" r="19.6"/><circle cx="1310.8" cy="1213.7" r="19.6"/><circle cx="1311.5" cy="1174.4" r="19.6"/><circle cx="1343.4" cy="1176.8" r="19.6"/><circle cx="1264.2" cy="1161.0" r="19.6"/>
<circle cx="1218.7" cy="1134.2" r="19.6"/><circle cx="1272.9" cy="1169.5" r="19.6"/><circle cx="1275.1" cy="1145.2" r="19.6"/><circle cx="1185.8" cy="1147.6" r="19.6"/><circle cx="1290.3" cy="1141.6" r="19.6"/><circle cx="1224.2" cy="1151.1" r="19.6"/>
<circle cx="1159.7" cy="1138.7" r="19.6"/><circle cx="1374.6" cy="1076.4" r="19.6"/><circle cx="1211.8" cy="1166.4" r="19.6"/><circle cx="1346.5" cy="1077.1" r="19.6"/><circle cx="1356.5" cy="1208.6" r="19.6"/><circle cx="1389.3" cy="1137.4" r="19.6"/>
<circle cx="1310.8" cy="1113.9" r="19.6"/><circle cx="1388.3" cy="1160.8" r="19.6"/><circle cx="1242.0" cy="1176.4" r="19.6"/><circle cx="1201.7" cy="1150.4" r="19.6"/><circle cx="1357.4" cy="1074.6" r="19.6"/><circle cx="1163.5" cy="1153.2" r="19.6"/>
<circle cx="1379.1" cy="1141.6" r="19.6"/><circle cx="1398.1" cy="1113.8" r="19.6"/><circle cx="1270.7" cy="1200.9" r="19.6"/><circle cx="1311.1" cy="1191.4" r="19.6"/><circle cx="1296.3" cy="1154.5" r="19.6"/><circle cx="1363.3" cy="1197.7" r="19.6"/>
<circle cx="1276.9" cy="1179.7" r="19.6"/><circle cx="1214.6" cy="1142.0" r="19.6"/><circle cx="1366.9" cy="1089.0" r="19.6"/><circle cx="1368.2" cy="1100.3" r="19.6"/><circle cx="1359.3" cy="1113.6" r="19.6"/><circle cx="1262.6" cy="1185.5" r="19.6"/>
<circle cx="1328.1" cy="1102.5" r="19.6"/><circle cx="1228.5" cy="1166.3" r="19.6"/><circle cx="1394.8" cy="1130.0" r="19.6"/><circle cx="1321.3" cy="1154.4" r="19.6"/><circle cx="1217.4" cy="1166.2" r="19.6"/><circle cx="1387.4" cy="1119.3" r="19.6"/>
<circle cx="1374.3" cy="1187.2" r="19.6"/><circle cx="1396.9" cy="1094.2" r="19.6"/><circle cx="1261.1" cy="1190.9" r="19.6"/><circle cx="1288.6" cy="1175.8" r="19.6"/><circle cx="1318.3" cy="1123.4" r="19.6"/><circle cx="1340.4" cy="1156.6" r="19.6"/>
<circle cx="1296.9" cy="1165.5" r="19.6"/><circle cx="1295.4" cy="1095.2" r="19.6"/><circle cx="1351.0" cy="1159.2" r="19.6"/><circle cx="1251.1" cy="1174.8" r="19.6"/><circle cx="1307.6" cy="1169.2" r="19.6"/><circle cx="1367.4" cy="1168.7" r="19.6"/>
<circle cx="1371.1" cy="1127.8" r="19.6"/><circle cx="1188.4" cy="1170.7" r="19.6"/><circle cx="1302.2" cy="1185.3" r="19.6"/><circle cx="1319.6" cy="1161.9" r="19.6"/><circle cx="1172.9" cy="1159.2" r="19.6"/><circle cx="1345.3" cy="1101.4" r="19.6"/>
<circle cx="1327.6" cy="1174.0" r="19.6"/><circle cx="1311.4" cy="1185.4" r="19.6"/><circle cx="1021.0" cy="834.1" r="19.6"/><circle cx="1029.0" cy="841.6" r="19.6"/><circle cx="985.6" cy="851.2" r="19.6"/><circle cx="1033.2" cy="820.3" r="19.6"/>
<circle cx="1001.2" cy="912.1" r="19.6"/><circle cx="1004.3" cy="850.2" r="19.6"/><circle cx="1037.8" cy="860.8" r="19.6"/><circle cx="1007.0" cy="840.6" r="19.6"/><circle cx="1010.8" cy="875.7" r="19.6"/><circle cx="1011.1" cy="899.9" r="19.6"/>
<circle cx="1014.6" cy="849.3" r="19.6"/><circle cx="1003.2" cy="892.0" r="19.6"/><circle cx="1032.0" cy="907.2" r="19.6"/><circle cx="1047.1" cy="902.2" r="19.6"/><circle cx="995.9" cy="888.3" r="19.6"/><circle cx="999.4" cy="865.6" r="19.6"/>
<circle cx="1031.7" cy="880.3" r="19.6"/><circle cx="1015.6" cy="858.4" r="19.6"/><circle cx="1014.2" cy="834.5" r="19.6"/><circle cx="991.8" cy="880.1" r="19.6"/><circle cx="1353.5" cy="966.9" r="19.6"/><circle cx="1340.7" cy="970.1" r="19.6"/>
<circle cx="1384.6" cy="991.9" r="19.6"/><circle cx="1350.3" cy="954.2" r="19.6"/><circle cx="1367.2" cy="915.1" r="19.6"/><circle cx="1361.1" cy="993.2" r="19.6"/><circle cx="1360.1" cy="859.5" r="19.6"/><circle cx="1360.7" cy="853.4" r="19.6"/>
<circle cx="1357.7" cy="926.6" r="19.6"/><circle cx="1333.9" cy="987.8" r="19.6"/><circle cx="1353.0" cy="872.2" r="19.6"/><circle cx="1396.4" cy="855.7" r="19.6"/><circle cx="1337.6" cy="855.7" r="19.6"/><circle cx="1377.3" cy="950.6" r="19.6"/>
<circle cx="1362.5" cy="922.9" r="19.6"/><circle cx="1378.1" cy="984.7" r="19.6"/><circle cx="1390.8" cy="864.3" r="19.6"/><circle cx="1341.5" cy="977.1" r="19.6"/><circle cx="1374.2" cy="873.2" r="19.6"/><circle cx="1356.7" cy="976.7" r="19.6"/>
<circle cx="1338.4" cy="924.0" r="19.6"/><circle cx="1366.8" cy="929.3" r="19.6"/><circle cx="1347.4" cy="856.3" r="19.6"/><circle cx="1360.1" cy="873.8" r="19.6"/><circle cx="1368.3" cy="993.2" r="19.6"/><circle cx="1324.1" cy="979.8" r="19.6"/>
<circle cx="1360.7" cy="890.2" r="19.6"/><circle cx="1391.1" cy="1030.0" r="19.6"/><circle cx="1356.0" cy="1008.1" r="19.6"/><circle cx="1375.1" cy="880.7" r="19.6"/><circle cx="1380.7" cy="878.2" r="19.6"/><circle cx="1371.9" cy="934.4" r="19.6"/>
<circle cx="1410.9" cy="852.3" r="19.6"/>
</g>
<rect x="759.8" y="220.3" width="1444.3" height="1314.7" fill="none" stroke="#000" stroke-width="6"/>
<line x1="733.8" y1="1534.9" x2="759.8" y2="1534.9" stroke="#000" stroke-width="6" />
<line x1="2204.1" y1="1534.9" x2="2230.1" y2="1534.9" stroke="#000" stroke-width="6" />
<line x1="733.8" y1="1425.4" x2="759.8" y2="1425.4" stroke="#000" stroke-width="6" />
<line x1="2204.1" y1="1425.4" x2="2230.1" y2="1425.4" stroke="#000" stroke-width="6" />
<line x1="733.8" y1="1315.8" x2="759.8" y2="1315.8" stroke="#000" stroke-width="6" />
<line x1="2204.1" y1="1315.8" x2="2230.1" y2="1315.8" stroke="#000" stroke-width="6" />
<line x1="733.8" y1="1206.3" x2="759.8" y2="1206.3" stroke="#000" stroke-width="6" />
<line x1="2204.1" y1="1206.3" x2="2230.1" y2="1206.3" stroke="#000" stroke-width="6" />
<line x1="733.8" y1="1096.8" x2="759.8" y2="1096.8" stroke="#000" stroke-width="6" />
<line x1="2204.1" y1="1096.8" x2="2230.1" y2="1096.8" stroke="#000" stroke-width="6" />
<line x1="733.8" y1="987.2" x2="759.8" y2="987.2" stroke="#000" stroke-width="6" />
<line x1="2204.1" y1="987.2" x2="2230.1" y2="987.2" stroke="#000" stroke-width="6" />
<line x1="733.8" y1="877.6" x2="759.8" y2="877.6" stroke="#000" stroke-width="6" />
<line x1="2204.1" y1="877.6" x2="2230.1" y2="877.6" stroke="#000" stroke-width="6" />
<line x1="733.8" y1="768.1" x2="759.8" y2="768.1" stroke="#000" stroke-width="6" />
<line x1="2204.1" y1="768.1" x2="2230.1" y2="768.1" stroke="#000" stroke-width="6" />
<line x1="733.8" y1="658.5" x2="759.8" y2="658.5" stroke="#000" stroke-width="6" />
<line x1="2204.1" y1="658.5" x2="2230.1" y2="658.5" stroke="#000" stroke-width="6" />
<line x1="733.8" y1="549.0" x2="759.8" y2="549.0" stroke="#000" stroke-width="6" />
<line x1="2204.1" y1="549.0" x2="2230.1" y2="549.0" stroke="#000" stroke-width="6" />
<line x1="733.8" y1="439.4" x2="759.8" y2="439.4" stroke="#000" stroke-width="6" />
<line x1="2204.1" y1="439.4" x2="2230.1" y2="439.4" stroke="#000" stroke-width="6" />
<line x1="733.8" y1="329.9" x2="759.8" y2="329.9" stroke="#000" stroke-width="6" />
<line x1="2204.1" y1="329.9" x2="2230.1" y2="329.9" stroke="#000" stroke-width="6" />
<line x1="733.8" y1="220.4" x2="759.8" y2="220.4" stroke="#000" stroke-width="6" />
<line x1="2204.1" y1="220.4" x2="2230.1" y2="220.4" stroke="#000" stroke-width="6" />
<line x1="759.8" y1="194.3" x2="759.8" y2="220.3" stroke="#000" stroke-width="6" />
<line x1="759.8" y1="1535.0" x2="759.8" y2="1560.0" stroke="#000" stroke-width="6" />
<line x1="940.3" y1="194.3" x2="940.3" y2="220.3" stroke="#000" stroke-width="6" />
<line x1="940.3" y1="1535.0" x2="940.3" y2="1560.0" stroke="#000" stroke-width="6" />
<line x1="1120.9" y1="194.3" x2="1120.9" y2="220.3" stroke="#000" stroke-width="6" />
<line x1="1120.9" y1="1535.0" x2="1120.9" y2="1560.0" stroke="#000" stroke-width="6" />
<line x1="1301.4" y1="194.3" x2="1301.4" y2="220.3" stroke="#000" stroke-width="6" />
<line x1="1301.4" y1="1535.0" x2="1301.4" y2="1560.0" stroke="#000" stroke-width="6" />
<line x1="1481.9" y1="194.3" x2="1481.9" y2="220.3" stroke="#000" stroke-width="6" />
<line x1="1481.9" y1="1535.0" x2="1481.9" y2="1560.0" stroke="#000" stroke-width="6" />
<line x1="1662.5" y1="194.3" x2="1662.5" y2="220.3" stroke="#000" stroke-width="6" />
<line x1="1662.5" y1="1535.0" x2="1662.5" y2="1560.0" stroke="#000" stroke-width="6" />
<line x1="1843.0" y1="194.3" x2="1843.0" y2="220.3" stroke="#000" stroke-width="6" />
<line x1="1843.0" y1="1535.0" x2="1843.0" y2="1560.0" stroke="#000" stroke-width="6" />
<line x1="2023.6" y1="194.3" x2="2023.6" y2="220.3" stroke="#000" stroke-width="6" />
<line x1="2023.6" y1="1535.0" x2="2023.6" y2="1560.0" stroke="#000" stroke-width="6" />
<line x1="2204.1" y1="194.3" x2="2204.1" y2="220.3" stroke="#000" stroke-width="6" />
<line x1="2204.1" y1="1535.0" x2="2204.1" y2="1560.0" stroke="#000" stroke-width="6" />
</g>
<g id="panel-b">
<line x1="947.3" y1="1617.4" x2="947.3" y2="2325.1" stroke="#d4d4d4" stroke-width="2.4" />
<line x1="1125.2" y1="1617.4" x2="1125.2" y2="2325.1" stroke="#d4d4d4" stroke-width="2.4" />
<line x1="1303.1" y1="1617.4" x2="1303.1" y2="2325.1" stroke="#d4d4d4" stroke-width="2.4" />
<line x1="1481.0" y1="1617.4" x2="1481.0" y2="2325.1" stroke="#d4d4d4" stroke-width="2.4" />
<line x1="1659.0" y1="1617.4" x2="1659.0" y2="2325.1" stroke="#d4d4d4" stroke-width="2.4" />
<line x1="1836.9" y1="1617.4" x2="1836.9" y2="2325.1" stroke="#d4d4d4" stroke-width="2.4" />
<line x1="2014.8" y1="1617.4" x2="2014.8" y2="2325.1" stroke="#d4d4d4" stroke-width="2.4" />
<line x1="769.4" y1="2183.6" x2="2192.7" y2="2183.6" stroke="#d4d4d4" stroke-width="2.4" />
<line x1="769.4" y1="2042.0" x2="2192.7" y2="2042.0" stroke="#d4d4d4" stroke-width="2.4" />
<line x1="769.4" y1="1900.5" x2="2192.7" y2="1900.5" stroke="#d4d4d4" stroke-width="2.4" />
<line x1="769.4" y1="1758.9" x2="2192.7" y2="1758.9" stroke="#d4d4d4" stroke-width="2.4" />
<line x1="769.4" y1="1617.4" x2="2192.7" y2="1617.4" stroke="#d4d4d4" stroke-width="2.4" />
<line x1="769.4" y1="1613.9" x2="769.4" y2="2328.8" stroke="#000" stroke-width="8" />
<line x1="769.4" y1="2325.1" x2="2192.7" y2="2325.1" stroke="#000" stroke-width="7.5" />
<line x1="2192.7" y1="1613.9" x2="2192.7" y2="2328.8" stroke="#0000ff" stroke-width="8" />
<line x1="745.9" y1="2183.6" x2="769.4" y2="2183.6" stroke="#000" stroke-width="7" />
<line x1="745.9" y1="2042.0" x2="769.4" y2="2042.0" stroke="#000" stroke-width="7" />
<line x1="745.9" y1="1900.5" x2="769.4" y2="1900.5" stroke="#000" stroke-width="7" />
<line x1="745.9" y1="1758.9" x2="769.4" y2="1758.9" stroke="#000" stroke-width="7" />
<line x1="745.9" y1="1617.4" x2="769.4" y2="1617.4" stroke="#000" stroke-width="7" />
<line x1="2192.7" y1="2325.1" x2="2219.7" y2="2325.1" stroke="#0000ff" stroke-width="7" />
<line x1="2192.7" y1="2183.6" x2="2219.7" y2="2183.6" stroke="#0000ff" stroke-width="7" />
<line x1="2192.7" y1="2042.0" x2="2219.7" y2="2042.0" stroke="#0000ff" stroke-width="7" />
<line x1="2192.7" y1="1900.5" x2="2219.7" y2="1900.5" stroke="#0000ff" stroke-width="7" />
<line x1="2192.7" y1="1758.9" x2="2219.7" y2="1758.9" stroke="#0000ff" stroke-width="7" />
<line x1="2192.7" y1="1617.4" x2="2219.7" y2="1617.4" stroke="#0000ff" stroke-width="7" />
<line x1="947.3" y1="2325.1" x2="947.3" y2="2348.6" stroke="#000" stroke-width="7.5" />
<line x1="1125.2" y1="2325.1" x2="1125.2" y2="2348.6" stroke="#000" stroke-width="7.5" />
<line x1="1303.1" y1="2325.1" x2="1303.1" y2="2348.6" stroke="#000" stroke-width="7.5" />
<line x1="1481.0" y1="2325.1" x2="1481.0" y2="2348.6" stroke="#000" stroke-width="7.5" />
<line x1="1659.0" y1="2325.1" x2="1659.0" y2="2348.6" stroke="#000" stroke-width="7.5" />
<line x1="1836.9" y1="2325.1" x2="1836.9" y2="2348.6" stroke="#000" stroke-width="7.5" />
<line x1="2014.8" y1="2325.1" x2="2014.8" y2="2348.6" stroke="#000" stroke-width="7.5" />
<line x1="2192.7" y1="2325.1" x2="2192.7" y2="2348.6" stroke="#000" stroke-width="7.5" />
<polyline fill="none" stroke="#000" stroke-width="10" stroke-linejoin="round" points="769.4,2325.0 949.3,2213.0 1126.6,1969.0 1305.0,2151.0 1483.0,2271.0 1660.0,2321.5 1837.5,2321.5"/>
<circle cx="768.5" cy="2327.3" r="19" fill="none" stroke="#000" stroke-width="6.5"/>
<circle cx="953.0" cy="2215.5" r="19" fill="none" stroke="#000" stroke-width="6.5"/>
<circle cx="1126.6" cy="1969.0" r="19" fill="none" stroke="#000" stroke-width="6.5"/>
<circle cx="1305.0" cy="2151.0" r="19" fill="none" stroke="#000" stroke-width="6.5"/>
<circle cx="1483.0" cy="2271.0" r="19" fill="none" stroke="#000" stroke-width="6.5"/>
<circle cx="1660.0" cy="2321.5" r="19" fill="none" stroke="#000" stroke-width="6.5"/>
<circle cx="1837.5" cy="2321.5" r="19" fill="none" stroke="#000" stroke-width="6.5"/>
<polyline fill="none" stroke="#a6a6a6" stroke-width="10" stroke-linejoin="round" points="769.4,2324.5 949.0,2211.5 1125.3,1857.8 1302.3,1674.7 1480.3,1624.1 1657.3,1619.3 1834.8,1615.4"/>
<circle cx="769.4" cy="2324.5" r="18.4" fill="#a6a6a6"/>
<circle cx="949.0" cy="2211.5" r="18.4" fill="#a6a6a6"/>
<circle cx="1125.3" cy="1857.8" r="18.4" fill="#a6a6a6"/>
<circle cx="1302.3" cy="1674.7" r="18.4" fill="#a6a6a6"/>
<circle cx="1480.3" cy="1624.1" r="18.4" fill="#a6a6a6"/>
<circle cx="1657.3" cy="1619.3" r="18.4" fill="#a6a6a6"/>
<circle cx="1834.8" cy="1615.4" r="18.4" fill="#a6a6a6"/>
<polyline fill="none" stroke="#0000ff" stroke-width="9.5" stroke-linejoin="round" points="947.8,2169.5 1125.3,2173.9 1302.8,2132.3 1480.6,2147.6 1657.3,1857.8 1834.8,1764.3"/>
<circle cx="947.8" cy="2169.5" r="17" fill="#0000ff" stroke="#0a5ad0" stroke-width="1.5"/>
<circle cx="1125.3" cy="2173.9" r="17" fill="#0000ff" stroke="#0a5ad0" stroke-width="1.5"/>
<circle cx="1302.8" cy="2132.3" r="17" fill="#0000ff" stroke="#0a5ad0" stroke-width="1.5"/>
<circle cx="1480.6" cy="2147.6" r="17" fill="#0000ff" stroke="#0a5ad0" stroke-width="1.5"/>
<circle cx="1657.3" cy="1857.8" r="17" fill="#0000ff" stroke="#0a5ad0" stroke-width="1.5"/>
<circle cx="1834.8" cy="1764.3" r="17" fill="#0000ff" stroke="#0a5ad0" stroke-width="1.5"/>
</g>
<g id="labels" font-family='"Liberation Serif", serif' font-weight="bold" style="font-kerning:none;font-variant-ligatures:none">
<text font-size="88" fill="#000" transform="translate(288.5,180.4) rotate(-90)" textLength="156.5" lengthAdjust="spacingAndGlyphs">0.08</text>
<text font-size="88" fill="#000" transform="translate(396.5,180.3) rotate(-90)" textLength="156.2" lengthAdjust="spacingAndGlyphs">0.06</text>
<text font-size="88" fill="#000" transform="translate(502.0,180.3) rotate(-90)" textLength="155.1" lengthAdjust="spacingAndGlyphs">0.04</text>
<text font-size="88" fill="#000" transform="translate(608.9,180.4) rotate(-90)" textLength="157.4" lengthAdjust="spacingAndGlyphs">0.02</text>
<text font-size="88" fill="#000" transform="translate(724.1,180.3) rotate(-90)" textLength="44.0" lengthAdjust="spacingAndGlyphs">0</text>
<text font-size="88" fill="#000" x="115.9" y="261.6" textLength="91.2" lengthAdjust="spacingAndGlyphs">30</text>
<text font-size="88" fill="#000" x="116.6" y="479.0" textLength="90.7" lengthAdjust="spacingAndGlyphs">20</text>
<text font-size="88" fill="#000" x="116.7" y="697.7" textLength="92.7" lengthAdjust="spacingAndGlyphs">10</text>
<text font-size="88" fill="#000" x="167.3" y="911.7" textLength="45.5" lengthAdjust="spacingAndGlyphs">0</text>
<text font-size="88" fill="#000" x="94.3" y="1137.8" textLength="123.0" lengthAdjust="spacingAndGlyphs">-10</text>
<text font-size="88" fill="#000" x="92.5" y="1349.6" textLength="123.9" lengthAdjust="spacingAndGlyphs">-20</text>
<text font-size="88" fill="#000" x="92.3" y="1568.7" textLength="123.5" lengthAdjust="spacingAndGlyphs">-30</text>
<text font-size="88" fill="#000" transform="translate(75.3,1410.8) rotate(-90)" textLength="156.0" lengthAdjust="spacing">Bias</text>
<text font-size="88" fill="#000" transform="translate(75.3,1229.0) rotate(-90)" textLength="79.2" lengthAdjust="spacing">of</text>
<text font-size="88" fill="#000" transform="translate(75.3,1134.8) rotate(-90)" textLength="327.6" lengthAdjust="spacing">shoreline</text>
<text font-size="88" fill="#000" transform="translate(75.3,779.3) rotate(-90)" textLength="285.1" lengthAdjust="spacing">position</text>
<text font-size="88" fill="#000" transform="translate(75.3,462.7) rotate(-90)" textLength="131.5" lengthAdjust="spacing">(m)</text>
<text font-size="88" fill="#000" transform="translate(364.3,693.8) rotate(-90)" textLength="418.3" lengthAdjust="spacing">Normalized</text>
<text font-size="88" fill="#000" transform="translate(467.5,670.1) rotate(-90)" textLength="376.8" lengthAdjust="spacing">frequency</text>
<text font-size="88" fill="#000" x="418.5" y="1500.0" textLength="104.0" lengthAdjust="spacingAndGlyphs">(c)</text>
<text font-size="88" fill="#000" x="1423.0" y="1504.4" textLength="107.1" lengthAdjust="spacingAndGlyphs">(a)</text>
<text font-size="88" fill="#000" x="562.2" y="1646.4" textLength="135.8" lengthAdjust="spacingAndGlyphs">100</text>
<text font-size="88" fill="#000" x="608.7" y="1787.9" textLength="89.2" lengthAdjust="spacingAndGlyphs">80</text>
<text font-size="88" fill="#000" x="608.5" y="1929.5" textLength="89.5" lengthAdjust="spacingAndGlyphs">60</text>
<text font-size="88" fill="#000" x="610.5" y="2071.0" textLength="87.4" lengthAdjust="spacingAndGlyphs">40</text>
<text font-size="88" fill="#000" x="607.8" y="2212.6" textLength="90.2" lengthAdjust="spacingAndGlyphs">20</text>
<text font-size="88" fill="#000" x="652.4" y="2352.6" textLength="45.6" lengthAdjust="spacingAndGlyphs">0</text>
<text font-size="88" fill="#0000ff" x="2267.4" y="1646.4" textLength="91.0" lengthAdjust="spacingAndGlyphs">25</text>
<text font-size="88" fill="#0000ff" x="2267.4" y="1787.9" textLength="91.0" lengthAdjust="spacingAndGlyphs">20</text>
<text font-size="88" fill="#0000ff" x="2266.7" y="1929.5" textLength="91.6" lengthAdjust="spacingAndGlyphs">15</text>
<text font-size="88" fill="#0000ff" x="2266.6" y="2071.0" textLength="92.1" lengthAdjust="spacingAndGlyphs">10</text>
<text font-size="88" fill="#0000ff" x="2268.2" y="2212.6" textLength="46.4" lengthAdjust="spacingAndGlyphs">5</text>
<text font-size="88" fill="#0000ff" x="2267.8" y="2352.6" textLength="46.4" lengthAdjust="spacingAndGlyphs">0</text>
<text font-size="88" fill="#000" x="750.1" y="2453.5" textLength="45.1" lengthAdjust="spacingAndGlyphs">0</text>
<text font-size="88" fill="#000" x="893.4" y="2453.5" textLength="113.9" lengthAdjust="spacingAndGlyphs">0.5</text>
<text font-size="88" fill="#000" x="1105.1" y="2453.5" textLength="44.1" lengthAdjust="spacingAndGlyphs">1</text>
<text font-size="88" fill="#000" x="1249.1" y="2453.5" textLength="114.7" lengthAdjust="spacingAndGlyphs">1.5</text>
<text font-size="88" fill="#000" x="1458.7" y="2453.5" textLength="45.5" lengthAdjust="spacingAndGlyphs">2</text>
<text font-size="88" fill="#000" x="1602.9" y="2453.5" textLength="114.5" lengthAdjust="spacingAndGlyphs">2.5</text>
<text font-size="88" fill="#000" x="1815.2" y="2453.5" textLength="45.5" lengthAdjust="spacingAndGlyphs">3</text>
<text font-size="88" fill="#000" x="1958.6" y="2453.5" textLength="116.0" lengthAdjust="spacingAndGlyphs">3.5</text>
<text font-size="88" fill="#000" x="2171.4" y="2453.5" textLength="42.8" lengthAdjust="spacingAndGlyphs">4</text>
<text font-size="88" fill="#000" x="1173.7" y="2542.3" textLength="204.3" lengthAdjust="spacing">Wave</text>
<text font-size="88" fill="#000" x="1406.7" y="2542.3" textLength="233.0" lengthAdjust="spacing">height</text>
<text font-size="88" fill="#000" x="1662.0" y="2542.3" textLength="132.8" lengthAdjust="spacing">(m)</text>
<text font-size="88" fill="#000" x="1421.3" y="2634.1" textLength="113.3" lengthAdjust="spacingAndGlyphs">(b)</text>
<text font-size="88" fill="#000" transform="translate(559.4,2253.8) rotate(-90)" textLength="405.4" lengthAdjust="spacing">Frequency</text>
<text font-size="88" fill="#000" transform="translate(559.4,1836.3) rotate(-90)" textLength="147.5" lengthAdjust="spacing">(%)</text>
<text font-size="88" fill="#0000ff" transform="translate(2434.6,2149.7) rotate(-90)" textLength="205.0" lengthAdjust="spacing">MAB</text>
<text font-size="88" fill="#0000ff" transform="translate(2434.6,1931.6) rotate(-90)" textLength="136.7" lengthAdjust="spacing">(m)</text>
<text font-size="88" fill="#000" x="809.4" y="1645.3" textLength="66.7" lengthAdjust="spacing">C</text>
<text font-size="88" fill="#000" x="878.2" y="1645.3" textLength="360.6" lengthAdjust="spacing">umulative</text>
<text font-size="88" fill="#000" x="838.8" y="1748.3" textLength="380.9" lengthAdjust="spacing">frequency</text>
<text font-size="88" fill="#0000ff" y="1773.5" x="1880.8 1967.3 2027.6">MAB</text>
<text font-size="88" fill="#000" y="2240.2" x="1553.4 1612.8 1648.7 1690.2 1742.4 1789.3 1832.0 1880.0 1918.7">Frequency</text>
</g>
</svg>
</body></html>
